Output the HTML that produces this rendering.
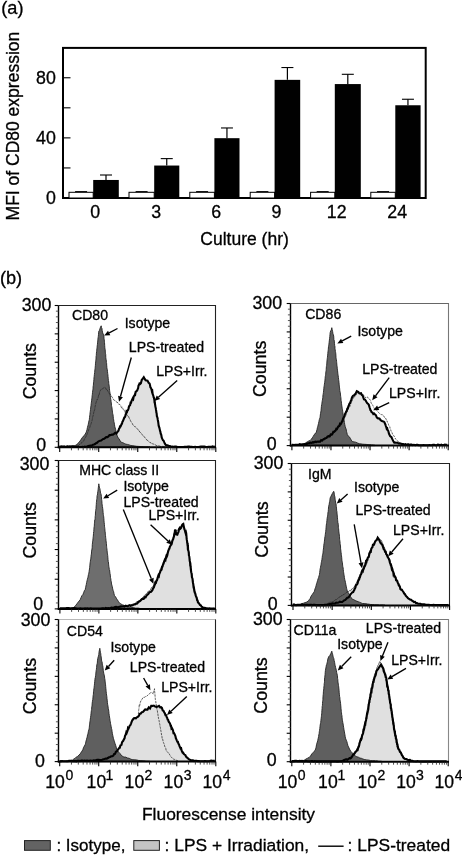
<!DOCTYPE html>
<html><head><meta charset="utf-8"><title>Figure</title>
<style>
html,body{margin:0;padding:0;background:#fff;}
body{width:462px;height:856px;overflow:hidden;}
svg{display:block;font-family:"Liberation Sans", sans-serif;will-change:transform;opacity:0.999;}
svg text{font-family:"Liberation Sans", sans-serif;fill:#000;stroke:#000;stroke-width:0.3px;}
</style></head><body>
<svg width="462" height="856" viewBox="0 0 462 856">
<rect x="0" y="0" width="462" height="856" fill="#fff"/>
<text x="1.30" y="14.20" font-size="18.2" text-anchor="start" >(a)</text>
<rect x="63.0" y="47.9" width="362.7" height="150.1" fill="none" stroke="#000" stroke-width="2"/>
<line x1="63.0" x2="70.5" y1="167.94" y2="167.94" stroke="#000" stroke-width="1.1"/>
<line x1="63.0" x2="70.5" y1="137.88" y2="137.88" stroke="#000" stroke-width="1.1"/>
<line x1="63.0" x2="70.5" y1="107.82" y2="107.82" stroke="#000" stroke-width="1.1"/>
<line x1="63.0" x2="70.5" y1="77.76" y2="77.76" stroke="#000" stroke-width="1.1"/>
<text x="55.90" y="204.20" font-size="17.8" text-anchor="end" >0</text>
<text x="55.90" y="144.08" font-size="17.8" text-anchor="end" >40</text>
<text x="55.90" y="83.96" font-size="17.8" text-anchor="end" >80</text>
<text transform="translate(18.50,126.10) rotate(-90)" font-size="17.5" text-anchor="middle">MFI of CD80 expression</text>
<rect x="69.00" y="192.3" width="24.20" height="5.70" fill="#fff" stroke="#000" stroke-width="1"/>
<line x1="75.10" x2="87.10" y1="191.60000000000002" y2="191.60000000000002" stroke="#000" stroke-width="1"/>
<rect x="93.20" y="179.96" width="25.60" height="18.04" fill="#000"/>
<line x1="106.00" x2="106.00" y1="179.96" y2="175.00" stroke="#000" stroke-width="1.2"/>
<line x1="100.00" x2="112.00" y1="175.00" y2="175.00" stroke="#000" stroke-width="1.1"/>
<text x="95.10" y="217.80" font-size="17.8" text-anchor="middle" >0</text>
<rect x="129.00" y="192.3" width="25.20" height="5.70" fill="#fff" stroke="#000" stroke-width="1"/>
<line x1="135.60" x2="147.60" y1="191.60000000000002" y2="191.60000000000002" stroke="#000" stroke-width="1"/>
<rect x="154.20" y="165.54" width="25.10" height="32.46" fill="#000"/>
<line x1="166.75" x2="166.75" y1="165.54" y2="158.62" stroke="#000" stroke-width="1.2"/>
<line x1="160.75" x2="172.75" y1="158.62" y2="158.62" stroke="#000" stroke-width="1.1"/>
<text x="156.10" y="217.80" font-size="17.8" text-anchor="middle" >3</text>
<rect x="189.80" y="192.3" width="24.60" height="5.70" fill="#fff" stroke="#000" stroke-width="1"/>
<line x1="196.10" x2="208.10" y1="191.60000000000002" y2="191.60000000000002" stroke="#000" stroke-width="1"/>
<rect x="214.40" y="138.18" width="25.10" height="59.82" fill="#000"/>
<line x1="226.95" x2="226.95" y1="138.18" y2="127.96" stroke="#000" stroke-width="1.2"/>
<line x1="220.95" x2="232.95" y1="127.96" y2="127.96" stroke="#000" stroke-width="1.1"/>
<text x="216.30" y="217.80" font-size="17.8" text-anchor="middle" >6</text>
<rect x="250.20" y="192.3" width="24.40" height="5.70" fill="#fff" stroke="#000" stroke-width="1"/>
<line x1="256.40" x2="268.40" y1="191.60000000000002" y2="191.60000000000002" stroke="#000" stroke-width="1"/>
<rect x="274.60" y="79.86" width="25.60" height="118.14" fill="#000"/>
<line x1="287.40" x2="287.40" y1="79.86" y2="67.54" stroke="#000" stroke-width="1.2"/>
<line x1="281.40" x2="293.40" y1="67.54" y2="67.54" stroke="#000" stroke-width="1.1"/>
<text x="276.50" y="217.80" font-size="17.8" text-anchor="middle" >9</text>
<rect x="310.60" y="192.3" width="24.20" height="5.70" fill="#fff" stroke="#000" stroke-width="1"/>
<line x1="316.70" x2="328.70" y1="191.60000000000002" y2="191.60000000000002" stroke="#000" stroke-width="1"/>
<rect x="334.80" y="84.07" width="26.00" height="113.93" fill="#000"/>
<line x1="347.80" x2="347.80" y1="84.07" y2="74.30" stroke="#000" stroke-width="1.2"/>
<line x1="341.80" x2="353.80" y1="74.30" y2="74.30" stroke="#000" stroke-width="1.1"/>
<text x="336.70" y="217.80" font-size="17.8" text-anchor="middle" >12</text>
<rect x="370.80" y="192.3" width="24.50" height="5.70" fill="#fff" stroke="#000" stroke-width="1"/>
<line x1="377.05" x2="389.05" y1="191.60000000000002" y2="191.60000000000002" stroke="#000" stroke-width="1"/>
<rect x="395.30" y="105.26" width="25.30" height="92.74" fill="#000"/>
<line x1="407.95" x2="407.95" y1="105.26" y2="99.25" stroke="#000" stroke-width="1.2"/>
<line x1="401.95" x2="413.95" y1="99.25" y2="99.25" stroke="#000" stroke-width="1.1"/>
<text x="397.20" y="217.80" font-size="17.8" text-anchor="middle" >24</text>
<text x="244.60" y="244.60" font-size="17.5" text-anchor="middle" >Culture (hr)</text>
<text x="-0.10" y="283.60" font-size="18.2" text-anchor="start" >(b)</text>
<polygon points="59.5,446.6 60.7,446.5 61.8,446.4 63.0,446.8 64.1,446.4 65.3,446.7 66.4,446.6 67.6,446.4 68.7,446.7 69.9,446.4 71.0,446.7 72.2,446.5 73.3,446.5 74.5,446.8 75.6,447.0 76.8,446.6 77.9,446.7 79.1,447.0 80.2,447.0 81.4,447.0 82.5,446.9 83.7,447.0 84.8,446.7 86.0,447.0 87.2,446.5 88.3,446.1 89.5,445.7 90.7,445.5 91.8,445.6 93.0,444.7 94.0,444.5 95.0,444.0 96.0,443.2 97.0,442.8 98.0,441.7 99.0,441.1 100.0,440.7 101.1,440.6 102.1,439.7 103.2,438.9 104.2,438.7 105.3,437.9 106.3,437.1 107.4,437.1 108.4,436.4 109.5,435.1 110.6,435.1 111.8,434.5 112.9,434.6 114.0,433.8 115.2,432.8 116.3,433.6 117.5,431.9 118.0,431.3 118.5,430.8 119.0,428.8 119.5,428.3 120.0,426.4 120.5,426.5 121.0,425.6 121.5,424.2 122.0,423.7 122.5,421.6 122.9,421.2 123.4,419.9 123.8,418.8 124.3,417.5 124.8,417.2 125.2,416.4 125.7,414.3 126.2,413.6 126.6,411.3 127.1,411.6 127.5,410.4 128.0,410.1 128.5,408.6 129.0,406.4 129.6,405.6 130.1,405.2 130.6,402.6 131.1,402.6 131.6,400.8 132.1,399.7 132.7,398.5 133.2,399.1 133.7,396.5 134.2,395.7 134.7,394.9 135.1,395.0 135.6,391.9 136.1,391.7 136.6,390.8 137.1,390.6 137.6,389.3 138.1,388.3 138.5,385.7 139.0,384.9 139.5,383.6 140.2,384.0 140.9,383.2 141.7,380.0 142.4,379.1 143.1,378.2 143.8,377.2 144.7,378.9 145.6,380.2 146.5,380.4 147.5,380.6 148.6,382.7 149.6,383.5 150.0,385.1 150.4,387.3 150.8,387.8 151.2,388.5 151.6,389.9 151.9,391.3 152.3,390.9 152.7,394.1 153.1,395.0 153.5,396.4 153.7,397.4 153.9,397.6 154.1,398.8 154.3,399.2 154.5,401.6 154.7,401.5 154.9,402.7 155.0,404.2 155.2,405.2 155.4,406.8 155.6,407.4 155.8,408.4 156.0,409.9 156.2,411.0 156.4,412.7 156.6,413.2 156.9,416.2 157.1,416.8 157.3,417.1 157.6,418.5 157.8,419.9 158.0,421.1 158.2,421.9 158.5,424.4 158.7,425.9 158.9,426.1 159.2,427.4 159.4,427.9 159.7,429.1 160.0,430.7 160.4,431.8 160.7,433.8 161.0,434.1 161.3,435.1 161.7,437.5 162.0,438.1 162.3,438.9 163.0,440.3 163.6,440.7 164.2,442.2 164.9,443.7 165.5,444.5 166.2,445.3 167.4,445.2 168.6,445.7 169.8,445.9 171.0,446.7 172.3,446.6 173.6,446.8 174.9,446.6 176.1,446.6 177.4,447.0 178.7,447.0 180.0,447.0 181.2,447.0 182.3,447.0 183.5,447.0 184.6,446.8 185.8,446.9 187.0,446.8 188.1,446.6 189.3,446.6 190.4,446.7 191.6,446.7 192.8,447.0 193.9,447.0 195.1,446.8 196.2,447.0 197.4,447.0 198.6,447.0 199.7,446.7 200.9,446.6 202.0,446.6 203.2,446.5 204.4,446.5 205.5,446.8 206.7,447.0 207.8,446.9 209.0,446.7 210.2,446.8 211.3,446.9 212.5,446.3 213.6,446.7 214.8,446.6 214.8,447.3 59.5,447.3" fill="#e0e0e0"/>
<polygon points="59.5,446.8 61.2,446.9 63.0,446.7 64.8,446.6 66.5,446.4 68.2,446.2 70.0,446.3 71.6,445.8 73.2,445.8 74.8,445.6 76.4,445.0 77.6,443.6 78.8,442.5 80.1,440.9 81.3,439.1 82.3,437.6 83.3,436.3 84.2,435.6 85.2,434.1 86.2,432.2 86.6,431.1 87.0,429.6 87.4,427.6 87.9,425.7 88.3,424.2 88.7,422.1 89.1,420.3 89.3,419.7 89.5,417.6 89.7,415.8 89.9,414.6 90.1,412.4 90.3,411.2 90.5,409.5 90.8,407.0 91.0,405.4 91.2,403.8 91.4,402.1 91.6,400.9 91.8,398.7 92.0,397.3 92.2,395.3 92.3,394.8 92.5,392.4 92.7,390.9 92.9,389.5 93.0,388.4 93.2,386.0 93.4,385.2 93.5,382.9 93.7,381.4 93.9,379.8 94.0,377.3 94.2,376.4 94.4,374.4 94.6,372.5 94.7,372.2 94.9,369.5 95.1,368.4 95.2,367.2 95.4,365.3 95.5,363.2 95.7,361.9 95.8,360.3 96.0,359.1 96.1,356.2 96.3,355.4 96.4,353.2 96.6,351.6 96.7,350.9 96.9,348.7 97.1,347.2 97.2,346.0 97.4,344.7 97.6,342.2 97.8,341.0 97.9,339.2 98.1,337.6 98.3,336.4 98.5,334.3 98.6,332.9 98.8,331.2 99.5,330.3 100.2,327.9 101.2,325.8 101.5,327.7 101.9,328.2 102.2,330.6 102.7,332.9 103.2,334.3 103.7,334.4 103.9,336.0 104.0,338.3 104.2,339.3 104.4,341.2 104.5,342.6 104.7,345.4 104.8,347.3 105.0,349.2 105.2,349.4 105.3,352.1 105.5,353.7 105.7,354.4 105.8,357.4 106.0,359.3 106.2,359.6 106.4,362.6 106.6,363.2 106.7,365.1 106.9,367.6 107.1,369.0 107.3,369.5 107.5,371.7 107.7,373.5 107.9,374.8 108.0,376.3 108.2,378.2 108.4,380.5 108.6,381.0 108.8,383.6 109.0,385.0 109.2,386.1 109.4,388.2 109.6,390.3 109.8,391.8 110.0,392.9 110.3,395.9 110.5,397.3 110.7,399.2 110.9,399.6 111.1,401.5 111.3,402.9 111.5,405.6 111.7,406.5 112.0,408.0 112.2,410.0 112.5,412.2 112.7,413.7 113.0,414.7 113.2,416.2 113.4,418.7 113.7,419.9 113.9,421.7 114.2,422.6 114.4,424.2 114.8,426.6 115.2,428.0 115.6,429.3 116.1,431.8 116.5,433.2 116.9,435.0 117.3,436.1 118.3,438.1 119.2,439.0 120.2,441.0 121.2,442.2 122.8,442.7 124.3,443.4 125.9,444.2 127.4,444.4 129.0,444.9 130.9,445.5 132.9,445.7 134.9,446.0 136.8,446.3 138.5,446.4 140.1,446.5 141.8,446.6 143.4,446.7 145.1,446.9 146.7,446.8 148.3,446.9 150.0,447.0 150.0,447.3 59.5,447.3" fill="#5f5f5f" stroke="#222" stroke-width="0.9" stroke-linejoin="round"/>
<polyline points="78.0,446.0 79.0,444.9 80.0,444.3 81.0,443.2 82.0,442.6 83.0,441.5 83.6,441.2 84.1,439.9 84.7,438.4 85.3,437.6 85.9,437.1 86.4,435.0 87.0,434.8 87.4,433.2 87.8,432.1 88.2,431.5 88.7,429.7 89.1,428.7 89.5,427.9 89.9,427.2 90.3,425.1 90.8,424.7 91.2,423.4 91.6,422.2 92.0,420.6 92.3,419.4 92.5,417.6 92.8,416.6 93.1,415.3 93.3,415.3 93.6,413.2 93.9,411.9 94.1,410.5 94.4,410.8 94.7,409.7 94.9,408.1 95.2,406.1 95.5,404.9 95.7,403.8 96.0,402.9 96.4,401.1 96.8,400.6 97.2,399.0 97.6,399.4 98.0,398.3 98.4,396.2 98.8,394.4 99.2,394.8 99.6,392.2 100.0,391.2 101.0,389.4 102.0,389.2 103.0,388.4 104.7,387.2 105.6,387.9 106.5,390.0 107.2,389.9 107.9,391.5 108.6,392.1 109.3,393.8 110.0,394.0 110.9,395.1 111.8,396.8 112.6,397.8 113.5,399.7 114.6,400.3 115.8,401.5 116.9,402.1 118.0,402.9 118.9,404.4 119.7,404.4 120.6,405.4 121.5,407.8 122.3,407.2 123.2,409.4 123.9,410.3 124.6,410.1 125.3,412.6 125.9,413.7 126.6,414.2 127.3,415.4 128.0,416.6 128.6,416.4 129.2,418.2 129.9,419.2 130.5,420.8 131.1,421.8 131.8,422.9 132.4,423.6 133.0,425.1 133.8,425.7 134.6,426.6 135.4,426.8 136.2,427.4 137.0,428.5 137.9,429.7 138.8,430.2 139.8,432.1 140.7,432.6 141.6,433.8 142.4,434.9 143.3,436.0 144.1,436.9 145.0,437.4 146.0,439.2 147.0,440.1 148.0,440.7 149.0,441.6 150.0,442.7 151.2,442.7 152.4,443.9 153.6,444.1 154.8,444.5 156.0,445.3 157.3,445.9 158.6,445.7 159.9,446.2 161.1,446.6 162.4,446.4 163.7,446.5 165.0,446.8" fill="none" stroke="#2a2a2a" stroke-width="0.75" stroke-dasharray="3 0.7"/>
<polyline points="59.5,446.6 60.7,446.5 61.8,446.4 63.0,446.8 64.1,446.4 65.3,446.7 66.4,446.6 67.6,446.4 68.7,446.7 69.9,446.4 71.0,446.7 72.2,446.5 73.3,446.5 74.5,446.8 75.6,447.0 76.8,446.6 77.9,446.7 79.1,447.0 80.2,447.0 81.4,447.0 82.5,446.9 83.7,447.0 84.8,446.7 86.0,447.0 87.2,446.5 88.3,446.1 89.5,445.7 90.7,445.5 91.8,445.6 93.0,444.7 94.0,444.5 95.0,444.0 96.0,443.2 97.0,442.8 98.0,441.7 99.0,441.1 100.0,440.7 101.1,440.6 102.1,439.7 103.2,438.9 104.2,438.7 105.3,437.9 106.3,437.1 107.4,437.1 108.4,436.4 109.5,435.1 110.6,435.1 111.8,434.5 112.9,434.6 114.0,433.8 115.2,432.8 116.3,433.6 117.5,431.9 118.0,431.3 118.5,430.8 119.0,428.8 119.5,428.3 120.0,426.4 120.5,426.5 121.0,425.6 121.5,424.2 122.0,423.7 122.5,421.6 122.9,421.2 123.4,419.9 123.8,418.8 124.3,417.5 124.8,417.2 125.2,416.4 125.7,414.3 126.2,413.6 126.6,411.3 127.1,411.6 127.5,410.4 128.0,410.1 128.5,408.6 129.0,406.4 129.6,405.6 130.1,405.2 130.6,402.6 131.1,402.6 131.6,400.8 132.1,399.7 132.7,398.5 133.2,399.1 133.7,396.5 134.2,395.7 134.7,394.9 135.1,395.0 135.6,391.9 136.1,391.7 136.6,390.8 137.1,390.6 137.6,389.3 138.1,388.3 138.5,385.7 139.0,384.9 139.5,383.6 140.2,384.0 140.9,383.2 141.7,380.0 142.4,379.1 143.1,378.2 143.8,377.2 144.7,378.9 145.6,380.2 146.5,380.4 147.5,380.6 148.6,382.7 149.6,383.5 150.0,385.1 150.4,387.3 150.8,387.8 151.2,388.5 151.6,389.9 151.9,391.3 152.3,390.9 152.7,394.1 153.1,395.0 153.5,396.4 153.7,397.4 153.9,397.6 154.1,398.8 154.3,399.2 154.5,401.6 154.7,401.5 154.9,402.7 155.0,404.2 155.2,405.2 155.4,406.8 155.6,407.4 155.8,408.4 156.0,409.9 156.2,411.0 156.4,412.7 156.6,413.2 156.9,416.2 157.1,416.8 157.3,417.1 157.6,418.5 157.8,419.9 158.0,421.1 158.2,421.9 158.5,424.4 158.7,425.9 158.9,426.1 159.2,427.4 159.4,427.9 159.7,429.1 160.0,430.7 160.4,431.8 160.7,433.8 161.0,434.1 161.3,435.1 161.7,437.5 162.0,438.1 162.3,438.9 163.0,440.3 163.6,440.7 164.2,442.2 164.9,443.7 165.5,444.5 166.2,445.3 167.4,445.2 168.6,445.7 169.8,445.9 171.0,446.7 172.3,446.6 173.6,446.8 174.9,446.6 176.1,446.6 177.4,447.0 178.7,447.0 180.0,447.0 181.2,447.0 182.3,447.0 183.5,447.0 184.6,446.8 185.8,446.9 187.0,446.8 188.1,446.6 189.3,446.6 190.4,446.7 191.6,446.7 192.8,447.0 193.9,447.0 195.1,446.8 196.2,447.0 197.4,447.0 198.6,447.0 199.7,446.7 200.9,446.6 202.0,446.6 203.2,446.5 204.4,446.5 205.5,446.8 206.7,447.0 207.8,446.9 209.0,446.7 210.2,446.8 211.3,446.9 212.5,446.3 213.6,446.7 214.8,446.6" fill="none" stroke="#000" stroke-width="2.1" stroke-linejoin="miter" stroke-miterlimit="3"/>
<path d="M58.50 305.50 H216.05" fill="none" stroke="#222" stroke-width="1.1"/>
<path d="M215.50 305.50 V447.30" fill="none" stroke="#222" stroke-width="1.1"/>
<path d="M58.50 305.50 V448.20" fill="none" stroke="#000" stroke-width="1.4"/>
<path d="M57.80 447.30 H216.00" fill="none" stroke="#000" stroke-width="2"/>
<line x1="54.70" x2="58.50" y1="305.50" y2="305.50" stroke="#000" stroke-width="1.1"/>
<line x1="55.90" x2="58.50" y1="311.17" y2="311.17" stroke="#444" stroke-width="0.9"/>
<line x1="55.90" x2="58.50" y1="316.84" y2="316.84" stroke="#444" stroke-width="0.9"/>
<line x1="55.90" x2="58.50" y1="322.52" y2="322.52" stroke="#444" stroke-width="0.9"/>
<line x1="55.90" x2="58.50" y1="328.19" y2="328.19" stroke="#444" stroke-width="0.9"/>
<line x1="54.70" x2="58.50" y1="333.86" y2="333.86" stroke="#000" stroke-width="1.1"/>
<line x1="55.90" x2="58.50" y1="339.53" y2="339.53" stroke="#444" stroke-width="0.9"/>
<line x1="55.90" x2="58.50" y1="345.20" y2="345.20" stroke="#444" stroke-width="0.9"/>
<line x1="55.90" x2="58.50" y1="350.88" y2="350.88" stroke="#444" stroke-width="0.9"/>
<line x1="55.90" x2="58.50" y1="356.55" y2="356.55" stroke="#444" stroke-width="0.9"/>
<line x1="54.70" x2="58.50" y1="362.22" y2="362.22" stroke="#000" stroke-width="1.1"/>
<line x1="55.90" x2="58.50" y1="367.89" y2="367.89" stroke="#444" stroke-width="0.9"/>
<line x1="55.90" x2="58.50" y1="373.56" y2="373.56" stroke="#444" stroke-width="0.9"/>
<line x1="55.90" x2="58.50" y1="379.24" y2="379.24" stroke="#444" stroke-width="0.9"/>
<line x1="55.90" x2="58.50" y1="384.91" y2="384.91" stroke="#444" stroke-width="0.9"/>
<line x1="54.70" x2="58.50" y1="390.58" y2="390.58" stroke="#000" stroke-width="1.1"/>
<line x1="55.90" x2="58.50" y1="396.25" y2="396.25" stroke="#444" stroke-width="0.9"/>
<line x1="55.90" x2="58.50" y1="401.92" y2="401.92" stroke="#444" stroke-width="0.9"/>
<line x1="55.90" x2="58.50" y1="407.60" y2="407.60" stroke="#444" stroke-width="0.9"/>
<line x1="55.90" x2="58.50" y1="413.27" y2="413.27" stroke="#444" stroke-width="0.9"/>
<line x1="54.70" x2="58.50" y1="418.94" y2="418.94" stroke="#000" stroke-width="1.1"/>
<line x1="55.90" x2="58.50" y1="424.61" y2="424.61" stroke="#444" stroke-width="0.9"/>
<line x1="55.90" x2="58.50" y1="430.28" y2="430.28" stroke="#444" stroke-width="0.9"/>
<line x1="55.90" x2="58.50" y1="435.96" y2="435.96" stroke="#444" stroke-width="0.9"/>
<line x1="55.90" x2="58.50" y1="441.63" y2="441.63" stroke="#444" stroke-width="0.9"/>
<line x1="54.70" x2="58.50" y1="447.30" y2="447.30" stroke="#000" stroke-width="1.1"/>
<line x1="59.70" x2="59.70" y1="447.30" y2="451.90" stroke="#000" stroke-width="1.1"/>
<line x1="71.45" x2="71.45" y1="447.30" y2="450.30" stroke="#222" stroke-width="0.8"/>
<line x1="78.32" x2="78.32" y1="447.30" y2="450.30" stroke="#222" stroke-width="0.8"/>
<line x1="83.20" x2="83.20" y1="447.30" y2="450.30" stroke="#222" stroke-width="0.8"/>
<line x1="86.98" x2="86.98" y1="447.30" y2="450.30" stroke="#222" stroke-width="0.8"/>
<line x1="90.07" x2="90.07" y1="447.30" y2="450.30" stroke="#222" stroke-width="0.8"/>
<line x1="92.68" x2="92.68" y1="447.30" y2="450.30" stroke="#222" stroke-width="0.8"/>
<line x1="94.94" x2="94.94" y1="447.30" y2="450.30" stroke="#222" stroke-width="0.8"/>
<line x1="96.94" x2="96.94" y1="447.30" y2="450.30" stroke="#222" stroke-width="0.8"/>
<line x1="98.72" x2="98.72" y1="447.30" y2="451.90" stroke="#000" stroke-width="1.1"/>
<line x1="110.47" x2="110.47" y1="447.30" y2="450.30" stroke="#222" stroke-width="0.8"/>
<line x1="117.34" x2="117.34" y1="447.30" y2="450.30" stroke="#222" stroke-width="0.8"/>
<line x1="122.22" x2="122.22" y1="447.30" y2="450.30" stroke="#222" stroke-width="0.8"/>
<line x1="126.00" x2="126.00" y1="447.30" y2="450.30" stroke="#222" stroke-width="0.8"/>
<line x1="129.09" x2="129.09" y1="447.30" y2="450.30" stroke="#222" stroke-width="0.8"/>
<line x1="131.70" x2="131.70" y1="447.30" y2="450.30" stroke="#222" stroke-width="0.8"/>
<line x1="133.97" x2="133.97" y1="447.30" y2="450.30" stroke="#222" stroke-width="0.8"/>
<line x1="135.96" x2="135.96" y1="447.30" y2="450.30" stroke="#222" stroke-width="0.8"/>
<line x1="137.75" x2="137.75" y1="447.30" y2="451.90" stroke="#000" stroke-width="1.1"/>
<line x1="149.50" x2="149.50" y1="447.30" y2="450.30" stroke="#222" stroke-width="0.8"/>
<line x1="156.37" x2="156.37" y1="447.30" y2="450.30" stroke="#222" stroke-width="0.8"/>
<line x1="161.25" x2="161.25" y1="447.30" y2="450.30" stroke="#222" stroke-width="0.8"/>
<line x1="165.03" x2="165.03" y1="447.30" y2="450.30" stroke="#222" stroke-width="0.8"/>
<line x1="168.12" x2="168.12" y1="447.30" y2="450.30" stroke="#222" stroke-width="0.8"/>
<line x1="170.73" x2="170.73" y1="447.30" y2="450.30" stroke="#222" stroke-width="0.8"/>
<line x1="172.99" x2="172.99" y1="447.30" y2="450.30" stroke="#222" stroke-width="0.8"/>
<line x1="174.99" x2="174.99" y1="447.30" y2="450.30" stroke="#222" stroke-width="0.8"/>
<line x1="176.77" x2="176.77" y1="447.30" y2="451.90" stroke="#000" stroke-width="1.1"/>
<line x1="188.52" x2="188.52" y1="447.30" y2="450.30" stroke="#222" stroke-width="0.8"/>
<line x1="195.39" x2="195.39" y1="447.30" y2="450.30" stroke="#222" stroke-width="0.8"/>
<line x1="200.27" x2="200.27" y1="447.30" y2="450.30" stroke="#222" stroke-width="0.8"/>
<line x1="204.05" x2="204.05" y1="447.30" y2="450.30" stroke="#222" stroke-width="0.8"/>
<line x1="207.14" x2="207.14" y1="447.30" y2="450.30" stroke="#222" stroke-width="0.8"/>
<line x1="209.75" x2="209.75" y1="447.30" y2="450.30" stroke="#222" stroke-width="0.8"/>
<line x1="212.02" x2="212.02" y1="447.30" y2="450.30" stroke="#222" stroke-width="0.8"/>
<line x1="214.01" x2="214.01" y1="447.30" y2="450.30" stroke="#222" stroke-width="0.8"/>
<line x1="215.80" x2="215.80" y1="447.30" y2="451.90" stroke="#000" stroke-width="1.1"/>
<text x="51.40" y="311.30" font-size="17.8" text-anchor="end" >300</text>
<text x="46.10" y="451.10" font-size="17.8" text-anchor="end" >0</text>
<text transform="translate(35.80,371.20) rotate(-90)" font-size="17.8" text-anchor="middle">Counts</text>
<text x="72.00" y="320.40" font-size="14.1" text-anchor="start" >CD80</text>
<text x="124.70" y="327.90" font-size="14.1" text-anchor="start" >Isotype</text>
<text x="128.80" y="351.60" font-size="14.1" text-anchor="start" >LPS-treated</text>
<text x="156.20" y="375.60" font-size="14.1" text-anchor="start" >LPS+Irr.</text>
<line x1="117.50" y1="328.50" x2="109.16" y2="332.92" stroke="#000" stroke-width="1.35"/>
<polygon points="104.30,335.50 107.99,330.71 110.33,335.13" fill="#000"/>
<line x1="131.30" y1="357.50" x2="120.47" y2="396.50" stroke="#000" stroke-width="1.35"/>
<polygon points="119.00,401.80 118.06,395.83 122.88,397.17" fill="#000"/>
<line x1="177.20" y1="380.60" x2="158.42" y2="397.25" stroke="#000" stroke-width="1.35"/>
<polygon points="154.30,400.90 156.76,395.38 160.07,399.12" fill="#000"/>
<polygon points="59.7,608.2 60.9,608.2 62.0,608.4 63.2,608.4 64.3,608.3 65.5,608.4 66.6,608.0 67.8,608.1 68.9,608.1 70.1,608.5 71.2,608.2 72.4,608.4 73.5,608.0 74.7,608.1 75.8,608.2 77.0,608.5 78.1,608.6 79.3,608.6 80.4,608.3 81.6,608.5 82.7,608.5 83.9,608.5 85.0,608.3 86.2,608.6 87.3,608.3 88.5,608.6 89.6,608.6 90.8,608.3 91.9,608.6 93.1,608.6 94.2,608.6 95.4,608.6 96.5,608.5 97.7,608.5 98.8,608.6 100.0,608.5 101.2,608.6 102.3,608.3 103.5,608.4 104.6,608.6 105.8,608.0 106.9,608.4 108.1,608.1 109.2,608.3 110.4,608.0 111.5,607.6 112.7,608.0 113.8,607.6 115.0,607.1 116.2,606.9 117.4,607.2 118.6,607.0 119.8,606.7 121.0,606.4 122.2,606.5 123.4,606.3 124.6,606.6 125.8,605.7 127.0,606.2 128.1,606.1 129.3,605.2 130.4,605.8 131.6,605.4 132.7,605.3 133.9,604.5 135.0,604.4 136.0,603.7 136.9,603.7 137.9,602.6 138.9,601.7 139.9,601.1 140.9,600.2 141.8,599.3 142.8,598.7 143.7,598.8 144.7,597.2 145.6,597.3 146.6,595.5 147.5,594.7 148.3,594.1 149.2,592.7 150.0,592.0 150.8,592.0 151.7,591.0 152.5,589.9 153.0,588.6 153.5,588.0 154.0,587.0 154.5,585.3 155.0,584.5 155.5,582.3 156.0,582.5 156.5,580.9 157.0,580.3 157.4,579.0 157.9,577.2 158.4,575.6 158.9,576.2 159.4,573.4 159.8,573.0 160.3,571.6 160.7,570.4 161.2,570.2 161.6,569.6 162.0,567.0 162.5,566.7 162.9,564.9 163.3,564.3 163.8,562.9 164.2,561.2 164.6,560.1 165.1,559.2 165.5,559.8 165.9,557.7 166.4,556.0 166.8,556.6 167.2,555.7 167.7,553.3 168.1,551.5 168.5,550.5 168.9,549.1 169.4,548.7 169.8,546.9 170.2,546.2 170.7,545.1 171.1,544.8 171.5,544.5 171.9,543.0 172.3,541.0 172.8,539.9 173.2,539.1 173.6,537.6 174.0,536.4 174.2,534.3 174.4,533.6 174.7,534.2 174.9,530.6 175.1,530.3 175.3,529.4 175.5,531.3 175.7,530.8 175.9,532.3 176.1,533.5 176.3,535.2 176.9,534.2 177.4,534.5 177.9,533.1 178.5,532.0 179.2,528.6 179.8,527.7 180.5,528.6 181.2,527.8 182.0,525.3 182.7,524.3 183.3,523.9 183.8,526.4 184.4,529.2 184.8,530.2 185.2,531.5 185.6,533.1 186.0,532.3 186.2,533.1 186.3,534.3 186.5,536.5 186.6,538.1 186.8,539.9 186.9,540.4 187.1,541.4 187.2,542.8 187.4,543.2 187.5,544.5 187.7,544.4 187.8,547.4 188.0,547.2 188.1,550.0 188.3,550.5 188.4,550.8 188.6,551.5 188.8,553.0 188.9,555.1 189.1,556.4 189.2,556.2 189.4,557.3 189.6,559.6 189.7,560.9 189.9,561.7 190.1,562.5 190.2,564.5 190.4,564.4 190.5,566.2 190.7,567.8 190.9,570.0 191.0,570.5 191.2,572.2 191.3,572.6 191.5,573.3 191.7,574.5 191.9,577.1 192.1,577.7 192.3,578.1 192.5,578.7 192.7,580.8 192.9,582.3 193.0,583.0 193.2,583.9 193.4,585.8 193.6,587.4 193.8,587.4 194.0,588.3 194.2,590.0 194.4,591.3 194.8,592.8 195.2,593.3 195.6,595.3 196.0,596.4 196.4,597.2 196.7,598.0 197.1,600.1 197.5,600.4 197.9,602.2 198.3,602.7 199.1,603.5 199.9,604.9 200.8,605.3 201.6,606.7 202.4,607.2 203.2,607.8 204.5,607.9 205.7,608.1 207.0,608.4 208.2,608.6 209.5,608.3 210.7,608.5 212.0,608.5 213.4,608.6 214.8,608.2 214.8,608.9 59.7,608.9" fill="#e0e0e0"/>
<polygon points="68.0,608.6 69.8,608.3 71.7,608.0 73.5,607.8 74.6,606.5 75.8,605.3 76.9,603.9 78.0,602.3 79.2,601.0 80.3,599.5 81.1,597.4 81.9,595.7 82.8,594.7 83.6,592.9 84.4,590.6 85.2,589.6 85.6,587.7 85.9,586.1 86.3,584.4 86.6,582.7 87.0,580.9 87.3,579.6 87.7,578.1 88.0,577.2 88.4,574.6 88.7,574.1 89.1,571.5 89.3,570.0 89.5,569.0 89.7,567.3 89.9,565.1 90.1,562.9 90.3,561.8 90.5,560.0 90.8,559.1 91.0,556.4 91.2,555.0 91.4,554.1 91.6,551.1 91.8,550.0 92.0,549.0 92.2,547.3 92.3,544.5 92.5,542.9 92.6,541.3 92.8,541.1 93.0,538.4 93.1,537.5 93.3,536.2 93.5,533.6 93.6,531.9 93.8,531.4 93.9,529.2 94.1,527.0 94.3,526.2 94.4,523.8 94.6,522.1 94.7,520.0 94.9,519.8 95.1,518.4 95.2,516.3 95.4,515.2 95.5,511.8 95.7,510.6 95.8,509.4 96.0,508.6 96.1,507.0 96.3,504.3 96.4,502.4 96.6,501.1 96.7,499.5 96.9,498.7 97.1,495.6 97.4,495.1 97.6,493.2 97.8,491.7 98.1,489.9 98.3,487.8 98.6,485.6 98.8,483.8 99.1,485.6 99.5,488.1 99.8,488.4 100.2,490.3 100.5,493.1 100.9,493.7 101.2,495.0 101.4,496.6 101.6,499.3 101.8,500.5 102.0,503.4 102.2,504.9 102.4,506.7 102.5,507.0 102.7,508.3 102.9,510.0 103.1,512.4 103.3,514.4 103.5,515.6 103.7,516.8 103.9,518.8 104.0,520.9 104.2,522.6 104.4,524.4 104.5,526.3 104.7,527.6 104.8,528.4 105.0,531.2 105.2,532.0 105.3,534.1 105.5,535.5 105.7,537.7 105.8,538.5 106.0,540.3 106.2,542.0 106.4,543.5 106.6,546.3 106.7,547.5 106.9,548.8 107.1,550.6 107.3,553.1 107.5,554.1 107.7,555.4 107.9,557.9 108.0,559.3 108.2,561.4 108.4,561.9 108.6,564.1 108.8,566.2 109.1,567.8 109.3,569.5 109.6,570.0 109.8,572.0 110.0,573.4 110.3,575.1 110.5,577.7 110.8,578.8 111.0,580.8 111.3,581.8 111.5,584.0 111.9,585.2 112.3,586.7 112.7,588.9 113.2,590.7 113.6,591.6 114.0,593.7 114.4,595.4 115.4,596.6 116.4,598.3 117.3,599.7 118.3,601.3 119.3,602.9 120.9,603.9 122.4,604.8 124.0,605.3 125.5,605.9 127.1,606.9 128.7,607.3 130.3,607.2 131.9,607.5 133.6,607.6 135.2,608.1 136.8,608.1 138.4,608.1 140.0,608.5 140.0,608.9 68.0,608.9" fill="#6e6e6e" stroke="#222" stroke-width="0.9" stroke-linejoin="round"/>
<polyline points="100.0,608.5 101.2,608.2 102.5,608.2 103.8,608.2 105.0,608.2 106.2,607.7 107.5,607.7 108.8,607.9 110.0,607.6 111.2,607.4 112.5,607.4 113.8,607.7 115.0,607.2 116.2,607.3 117.5,607.0 118.8,606.9 120.0,607.2 121.2,607.2 122.5,606.6 123.8,606.4 125.0,606.7 126.2,605.9 127.5,605.3 128.8,605.7 130.0,604.9 131.2,604.9 132.5,604.2 133.8,604.2 135.0,603.5 136.0,602.4 137.0,601.6 138.0,601.4 139.0,600.8 140.0,600.4 141.0,598.7 142.0,598.6 142.8,597.4 143.7,596.7 144.5,595.3 145.3,594.5 146.2,593.9 147.0,593.6 147.9,591.5 148.7,591.2 149.6,590.7 150.5,590.0 151.3,588.0 152.2,586.9 152.7,587.1 153.3,586.1 153.8,584.3 154.4,582.5 154.9,582.9 155.5,580.9 156.0,580.7 156.5,579.1 157.0,578.3 157.5,576.0 158.0,576.0 158.5,573.9 159.0,573.1 159.5,572.8 160.0,571.6 160.5,569.2 161.0,568.0 161.5,567.1 162.0,566.1 162.5,564.7 163.0,562.9 163.5,561.9 164.0,561.7 164.5,560.8 165.0,557.8 165.5,557.8 166.0,557.0 166.5,554.2 167.0,554.8 167.5,552.0 168.0,551.9 168.5,550.6 168.9,549.6 169.4,547.7 169.8,546.8 170.2,545.9 170.7,544.4 171.1,543.7 171.6,542.1 172.0,540.9 172.4,538.6 172.9,538.7 173.3,537.1 173.7,535.2 174.1,535.2 174.6,534.0 175.0,531.9 176.2,530.5 177.3,530.6 178.5,529.0 179.5,527.9 180.5,527.5 181.5,525.4 183.2,525.8 183.6,527.3 184.1,527.4 184.5,530.2 184.9,530.1 185.3,533.0 185.8,534.4 186.2,535.0 186.4,535.1 186.5,537.4 186.7,538.3 186.9,540.8 187.1,540.1 187.2,543.0 187.4,544.5 187.6,545.0 187.8,546.4 187.9,546.2 188.1,549.2 188.3,549.2 188.5,551.5 188.7,552.6 188.8,552.1 189.0,554.6 189.2,556.2 189.4,555.5 189.5,557.4 189.7,559.5 189.9,559.5 190.1,562.2 190.2,562.2 190.4,564.5 190.6,564.4 190.8,566.4 190.9,568.4 191.1,568.3 191.3,569.6 191.5,571.3 191.6,572.2 191.8,572.9 192.0,574.4 192.2,575.6 192.4,578.2 192.6,579.0 192.9,580.5 193.1,580.5 193.3,582.8 193.5,582.9 193.7,584.8 193.9,586.1 194.1,586.9 194.4,588.9 194.6,589.7 194.8,590.9 195.0,592.5 195.4,592.6 195.8,595.0 196.2,595.6 196.6,596.5 197.0,598.1 197.4,598.6 197.8,600.6 198.2,601.3 198.6,602.2 199.0,603.8 200.0,604.3 201.0,605.0 202.0,606.4 203.0,606.8 204.0,608.0" fill="none" stroke="#2a2a2a" stroke-width="0.75"/>
<polyline points="59.7,608.2 60.9,608.2 62.0,608.4 63.2,608.4 64.3,608.3 65.5,608.4 66.6,608.0 67.8,608.1 68.9,608.1 70.1,608.5 71.2,608.2 72.4,608.4 73.5,608.0 74.7,608.1 75.8,608.2 77.0,608.5 78.1,608.6 79.3,608.6 80.4,608.3 81.6,608.5 82.7,608.5 83.9,608.5 85.0,608.3 86.2,608.6 87.3,608.3 88.5,608.6 89.6,608.6 90.8,608.3 91.9,608.6 93.1,608.6 94.2,608.6 95.4,608.6 96.5,608.5 97.7,608.5 98.8,608.6 100.0,608.5 101.2,608.6 102.3,608.3 103.5,608.4 104.6,608.6 105.8,608.0 106.9,608.4 108.1,608.1 109.2,608.3 110.4,608.0 111.5,607.6 112.7,608.0 113.8,607.6 115.0,607.1 116.2,606.9 117.4,607.2 118.6,607.0 119.8,606.7 121.0,606.4 122.2,606.5 123.4,606.3 124.6,606.6 125.8,605.7 127.0,606.2 128.1,606.1 129.3,605.2 130.4,605.8 131.6,605.4 132.7,605.3 133.9,604.5 135.0,604.4 136.0,603.7 136.9,603.7 137.9,602.6 138.9,601.7 139.9,601.1 140.9,600.2 141.8,599.3 142.8,598.7 143.7,598.8 144.7,597.2 145.6,597.3 146.6,595.5 147.5,594.7 148.3,594.1 149.2,592.7 150.0,592.0 150.8,592.0 151.7,591.0 152.5,589.9 153.0,588.6 153.5,588.0 154.0,587.0 154.5,585.3 155.0,584.5 155.5,582.3 156.0,582.5 156.5,580.9 157.0,580.3 157.4,579.0 157.9,577.2 158.4,575.6 158.9,576.2 159.4,573.4 159.8,573.0 160.3,571.6 160.7,570.4 161.2,570.2 161.6,569.6 162.0,567.0 162.5,566.7 162.9,564.9 163.3,564.3 163.8,562.9 164.2,561.2 164.6,560.1 165.1,559.2 165.5,559.8 165.9,557.7 166.4,556.0 166.8,556.6 167.2,555.7 167.7,553.3 168.1,551.5 168.5,550.5 168.9,549.1 169.4,548.7 169.8,546.9 170.2,546.2 170.7,545.1 171.1,544.8 171.5,544.5 171.9,543.0 172.3,541.0 172.8,539.9 173.2,539.1 173.6,537.6 174.0,536.4 174.2,534.3 174.4,533.6 174.7,534.2 174.9,530.6 175.1,530.3 175.3,529.4 175.5,531.3 175.7,530.8 175.9,532.3 176.1,533.5 176.3,535.2 176.9,534.2 177.4,534.5 177.9,533.1 178.5,532.0 179.2,528.6 179.8,527.7 180.5,528.6 181.2,527.8 182.0,525.3 182.7,524.3 183.3,523.9 183.8,526.4 184.4,529.2 184.8,530.2 185.2,531.5 185.6,533.1 186.0,532.3 186.2,533.1 186.3,534.3 186.5,536.5 186.6,538.1 186.8,539.9 186.9,540.4 187.1,541.4 187.2,542.8 187.4,543.2 187.5,544.5 187.7,544.4 187.8,547.4 188.0,547.2 188.1,550.0 188.3,550.5 188.4,550.8 188.6,551.5 188.8,553.0 188.9,555.1 189.1,556.4 189.2,556.2 189.4,557.3 189.6,559.6 189.7,560.9 189.9,561.7 190.1,562.5 190.2,564.5 190.4,564.4 190.5,566.2 190.7,567.8 190.9,570.0 191.0,570.5 191.2,572.2 191.3,572.6 191.5,573.3 191.7,574.5 191.9,577.1 192.1,577.7 192.3,578.1 192.5,578.7 192.7,580.8 192.9,582.3 193.0,583.0 193.2,583.9 193.4,585.8 193.6,587.4 193.8,587.4 194.0,588.3 194.2,590.0 194.4,591.3 194.8,592.8 195.2,593.3 195.6,595.3 196.0,596.4 196.4,597.2 196.7,598.0 197.1,600.1 197.5,600.4 197.9,602.2 198.3,602.7 199.1,603.5 199.9,604.9 200.8,605.3 201.6,606.7 202.4,607.2 203.2,607.8 204.5,607.9 205.7,608.1 207.0,608.4 208.2,608.6 209.5,608.3 210.7,608.5 212.0,608.5 213.4,608.6 214.8,608.2" fill="none" stroke="#000" stroke-width="2.1" stroke-linejoin="miter" stroke-miterlimit="3"/>
<path d="M58.50 460.50 H216.05" fill="none" stroke="#222" stroke-width="1.1"/>
<path d="M215.50 460.50 V608.90" fill="none" stroke="#222" stroke-width="1.1"/>
<path d="M58.50 460.50 V609.80" fill="none" stroke="#000" stroke-width="1.4"/>
<path d="M57.80 608.90 H216.00" fill="none" stroke="#000" stroke-width="2"/>
<line x1="54.70" x2="58.50" y1="460.50" y2="460.50" stroke="#000" stroke-width="1.1"/>
<line x1="55.90" x2="58.50" y1="466.44" y2="466.44" stroke="#444" stroke-width="0.9"/>
<line x1="55.90" x2="58.50" y1="472.37" y2="472.37" stroke="#444" stroke-width="0.9"/>
<line x1="55.90" x2="58.50" y1="478.31" y2="478.31" stroke="#444" stroke-width="0.9"/>
<line x1="55.90" x2="58.50" y1="484.24" y2="484.24" stroke="#444" stroke-width="0.9"/>
<line x1="54.70" x2="58.50" y1="490.18" y2="490.18" stroke="#000" stroke-width="1.1"/>
<line x1="55.90" x2="58.50" y1="496.12" y2="496.12" stroke="#444" stroke-width="0.9"/>
<line x1="55.90" x2="58.50" y1="502.05" y2="502.05" stroke="#444" stroke-width="0.9"/>
<line x1="55.90" x2="58.50" y1="507.99" y2="507.99" stroke="#444" stroke-width="0.9"/>
<line x1="55.90" x2="58.50" y1="513.92" y2="513.92" stroke="#444" stroke-width="0.9"/>
<line x1="54.70" x2="58.50" y1="519.86" y2="519.86" stroke="#000" stroke-width="1.1"/>
<line x1="55.90" x2="58.50" y1="525.80" y2="525.80" stroke="#444" stroke-width="0.9"/>
<line x1="55.90" x2="58.50" y1="531.73" y2="531.73" stroke="#444" stroke-width="0.9"/>
<line x1="55.90" x2="58.50" y1="537.67" y2="537.67" stroke="#444" stroke-width="0.9"/>
<line x1="55.90" x2="58.50" y1="543.60" y2="543.60" stroke="#444" stroke-width="0.9"/>
<line x1="54.70" x2="58.50" y1="549.54" y2="549.54" stroke="#000" stroke-width="1.1"/>
<line x1="55.90" x2="58.50" y1="555.48" y2="555.48" stroke="#444" stroke-width="0.9"/>
<line x1="55.90" x2="58.50" y1="561.41" y2="561.41" stroke="#444" stroke-width="0.9"/>
<line x1="55.90" x2="58.50" y1="567.35" y2="567.35" stroke="#444" stroke-width="0.9"/>
<line x1="55.90" x2="58.50" y1="573.28" y2="573.28" stroke="#444" stroke-width="0.9"/>
<line x1="54.70" x2="58.50" y1="579.22" y2="579.22" stroke="#000" stroke-width="1.1"/>
<line x1="55.90" x2="58.50" y1="585.16" y2="585.16" stroke="#444" stroke-width="0.9"/>
<line x1="55.90" x2="58.50" y1="591.09" y2="591.09" stroke="#444" stroke-width="0.9"/>
<line x1="55.90" x2="58.50" y1="597.03" y2="597.03" stroke="#444" stroke-width="0.9"/>
<line x1="55.90" x2="58.50" y1="602.96" y2="602.96" stroke="#444" stroke-width="0.9"/>
<line x1="54.70" x2="58.50" y1="608.90" y2="608.90" stroke="#000" stroke-width="1.1"/>
<line x1="59.90" x2="59.90" y1="608.90" y2="613.50" stroke="#000" stroke-width="1.1"/>
<line x1="71.63" x2="71.63" y1="608.90" y2="611.90" stroke="#222" stroke-width="0.8"/>
<line x1="78.50" x2="78.50" y1="608.90" y2="611.90" stroke="#222" stroke-width="0.8"/>
<line x1="83.37" x2="83.37" y1="608.90" y2="611.90" stroke="#222" stroke-width="0.8"/>
<line x1="87.14" x2="87.14" y1="608.90" y2="611.90" stroke="#222" stroke-width="0.8"/>
<line x1="90.23" x2="90.23" y1="608.90" y2="611.90" stroke="#222" stroke-width="0.8"/>
<line x1="92.84" x2="92.84" y1="608.90" y2="611.90" stroke="#222" stroke-width="0.8"/>
<line x1="95.10" x2="95.10" y1="608.90" y2="611.90" stroke="#222" stroke-width="0.8"/>
<line x1="97.09" x2="97.09" y1="608.90" y2="611.90" stroke="#222" stroke-width="0.8"/>
<line x1="98.88" x2="98.88" y1="608.90" y2="613.50" stroke="#000" stroke-width="1.1"/>
<line x1="110.61" x2="110.61" y1="608.90" y2="611.90" stroke="#222" stroke-width="0.8"/>
<line x1="117.47" x2="117.47" y1="608.90" y2="611.90" stroke="#222" stroke-width="0.8"/>
<line x1="122.34" x2="122.34" y1="608.90" y2="611.90" stroke="#222" stroke-width="0.8"/>
<line x1="126.12" x2="126.12" y1="608.90" y2="611.90" stroke="#222" stroke-width="0.8"/>
<line x1="129.20" x2="129.20" y1="608.90" y2="611.90" stroke="#222" stroke-width="0.8"/>
<line x1="131.81" x2="131.81" y1="608.90" y2="611.90" stroke="#222" stroke-width="0.8"/>
<line x1="134.07" x2="134.07" y1="608.90" y2="611.90" stroke="#222" stroke-width="0.8"/>
<line x1="136.07" x2="136.07" y1="608.90" y2="611.90" stroke="#222" stroke-width="0.8"/>
<line x1="137.85" x2="137.85" y1="608.90" y2="613.50" stroke="#000" stroke-width="1.1"/>
<line x1="149.58" x2="149.58" y1="608.90" y2="611.90" stroke="#222" stroke-width="0.8"/>
<line x1="156.45" x2="156.45" y1="608.90" y2="611.90" stroke="#222" stroke-width="0.8"/>
<line x1="161.32" x2="161.32" y1="608.90" y2="611.90" stroke="#222" stroke-width="0.8"/>
<line x1="165.09" x2="165.09" y1="608.90" y2="611.90" stroke="#222" stroke-width="0.8"/>
<line x1="168.18" x2="168.18" y1="608.90" y2="611.90" stroke="#222" stroke-width="0.8"/>
<line x1="170.79" x2="170.79" y1="608.90" y2="611.90" stroke="#222" stroke-width="0.8"/>
<line x1="173.05" x2="173.05" y1="608.90" y2="611.90" stroke="#222" stroke-width="0.8"/>
<line x1="175.04" x2="175.04" y1="608.90" y2="611.90" stroke="#222" stroke-width="0.8"/>
<line x1="176.83" x2="176.83" y1="608.90" y2="613.50" stroke="#000" stroke-width="1.1"/>
<line x1="188.56" x2="188.56" y1="608.90" y2="611.90" stroke="#222" stroke-width="0.8"/>
<line x1="195.42" x2="195.42" y1="608.90" y2="611.90" stroke="#222" stroke-width="0.8"/>
<line x1="200.29" x2="200.29" y1="608.90" y2="611.90" stroke="#222" stroke-width="0.8"/>
<line x1="204.07" x2="204.07" y1="608.90" y2="611.90" stroke="#222" stroke-width="0.8"/>
<line x1="207.15" x2="207.15" y1="608.90" y2="611.90" stroke="#222" stroke-width="0.8"/>
<line x1="209.76" x2="209.76" y1="608.90" y2="611.90" stroke="#222" stroke-width="0.8"/>
<line x1="212.02" x2="212.02" y1="608.90" y2="611.90" stroke="#222" stroke-width="0.8"/>
<line x1="214.02" x2="214.02" y1="608.90" y2="611.90" stroke="#222" stroke-width="0.8"/>
<line x1="215.80" x2="215.80" y1="608.90" y2="613.50" stroke="#000" stroke-width="1.1"/>
<text x="49.40" y="470.20" font-size="17.8" text-anchor="end" >300</text>
<text x="43.10" y="610.40" font-size="17.8" text-anchor="end" >0</text>
<text transform="translate(36.20,530.40) rotate(-90)" font-size="17.8" text-anchor="middle">Counts</text>
<text x="79.20" y="474.60" font-size="14.1" text-anchor="start" >MHC class II</text>
<text x="123.40" y="491.00" font-size="14.1" text-anchor="start" >Isotype</text>
<text x="123.40" y="506.60" font-size="14.1" text-anchor="start" >LPS-treated</text>
<text x="148.40" y="519.80" font-size="14.1" text-anchor="start" >LPS+Irr.</text>
<line x1="117.20" y1="490.20" x2="107.92" y2="495.77" stroke="#000" stroke-width="1.35"/>
<polygon points="103.20,498.60 106.63,493.63 109.20,497.91" fill="#000"/>
<line x1="123.30" y1="509.60" x2="151.33" y2="578.70" stroke="#000" stroke-width="1.35"/>
<polygon points="153.40,583.80 149.02,579.64 153.65,577.76" fill="#000"/>
<line x1="150.60" y1="524.70" x2="167.99" y2="541.03" stroke="#000" stroke-width="1.35"/>
<polygon points="172.00,544.80 166.28,542.86 169.70,539.21" fill="#000"/>
<polygon points="59.5,760.9 60.8,761.3 62.0,761.1 63.2,761.3 64.4,761.3 65.6,761.3 66.8,761.3 68.0,761.1 69.2,760.8 70.4,760.8 71.6,760.9 72.8,761.2 74.0,761.1 75.2,761.1 76.4,761.3 77.6,760.8 78.8,760.8 80.0,761.1 81.2,760.6 82.3,760.6 83.5,760.8 84.7,760.6 85.8,760.7 87.0,760.6 88.2,760.8 89.3,760.8 90.5,760.5 91.7,760.8 92.8,760.6 94.0,760.3 95.2,760.8 96.3,760.1 97.5,759.9 98.7,759.7 99.8,760.0 101.0,760.0 102.2,759.8 103.4,759.3 104.5,759.0 105.7,758.6 106.8,758.7 107.9,758.0 109.0,757.3 110.1,757.0 111.2,756.3 112.3,756.3 113.4,755.5 114.2,753.9 115.1,753.8 115.9,751.7 116.8,751.4 117.6,750.2 118.5,749.0 119.3,747.7 119.8,747.7 120.4,745.5 120.9,745.2 121.5,744.8 122.0,742.4 122.6,741.4 123.1,741.0 123.7,739.7 124.2,738.9 124.6,738.1 125.0,735.8 125.5,735.0 125.9,733.9 126.3,732.3 126.7,732.9 127.2,731.6 127.6,730.4 128.0,727.9 128.6,728.5 129.2,727.2 129.8,725.5 130.4,725.0 131.1,723.3 131.7,721.7 132.3,720.3 132.9,719.5 133.9,718.3 134.9,718.1 135.9,718.3 136.8,717.3 137.8,716.9 138.8,715.8 139.8,713.8 140.8,713.5 141.8,712.2 142.8,712.1 144.0,710.7 145.2,709.4 146.3,709.6 147.5,709.6 148.8,707.3 150.0,708.4 151.2,705.8 152.5,705.9 153.8,705.6 155.2,706.6 156.5,706.9 157.8,706.6 159.0,705.8 160.3,707.4 161.1,707.1 161.9,707.9 162.7,710.5 163.5,710.8 164.2,712.2 164.8,713.3 165.5,715.2 166.2,715.2 166.7,717.2 167.2,718.0 167.6,719.5 168.1,719.7 168.6,721.5 169.1,722.3 169.6,722.8 170.1,723.8 170.6,725.8 171.0,725.8 171.5,728.6 172.0,728.2 172.5,729.1 173.0,730.4 173.5,733.1 174.0,733.1 174.5,733.9 174.9,734.8 175.4,736.0 175.9,738.3 176.4,739.3 176.9,740.6 177.4,741.8 177.9,741.8 178.4,743.7 179.0,744.4 179.5,746.2 180.0,747.2 180.5,748.4 181.1,748.2 181.6,750.5 182.1,751.6 182.6,752.7 183.2,752.6 183.7,753.8 184.5,754.5 185.4,755.2 186.2,756.9 187.1,757.6 187.9,758.2 188.8,759.2 189.7,759.7 190.5,760.2 191.7,760.2 192.9,760.3 194.1,761.0 195.2,760.7 196.4,760.9 197.6,761.1 198.8,761.0 200.0,761.2 201.2,761.2 202.5,761.3 203.7,761.2 204.9,761.1 206.2,761.3 207.4,761.2 208.6,761.3 209.9,761.1 211.1,760.7 212.3,760.9 213.6,760.9 214.8,760.9 214.8,761.6 59.5,761.6" fill="#e0e0e0"/>
<polygon points="66.0,761.2 67.6,761.0 69.2,760.6 70.9,760.5 72.5,760.1 73.8,759.0 75.1,758.4 76.4,756.9 77.7,756.4 79.0,754.9 80.3,753.8 81.1,752.3 81.9,751.2 82.8,749.8 83.6,747.3 84.4,746.1 85.2,744.5 85.6,743.2 86.0,741.1 86.4,739.8 86.8,738.1 87.2,737.1 87.5,734.9 87.9,734.1 88.3,731.8 88.7,730.1 89.1,729.1 89.3,727.2 89.5,725.1 89.7,724.1 89.9,721.7 90.1,720.9 90.3,719.1 90.5,717.6 90.8,715.7 91.0,713.7 91.2,712.0 91.4,710.4 91.6,709.4 91.8,706.6 92.0,706.1 92.2,703.1 92.4,701.7 92.6,700.1 92.8,699.4 93.0,697.1 93.2,695.2 93.4,694.3 93.5,691.6 93.7,690.3 93.9,688.7 94.1,687.4 94.3,685.7 94.5,683.8 94.7,681.6 94.9,679.9 95.1,678.0 95.3,677.6 95.6,675.6 95.8,674.1 96.0,671.5 96.2,670.3 96.4,669.3 96.6,667.3 96.8,664.9 97.1,663.9 97.3,663.1 97.5,660.2 97.8,658.4 98.2,656.9 98.5,656.0 98.8,654.6 99.1,651.5 99.5,649.8 99.8,648.3 100.1,650.2 100.4,652.3 100.7,653.3 100.9,655.4 101.2,656.9 101.5,660.1 101.8,661.4 102.1,661.9 102.4,665.3 102.7,665.4 103.0,667.7 103.3,670.5 103.5,671.9 103.8,673.5 104.1,674.6 104.4,675.9 104.7,678.4 104.9,679.2 105.1,681.1 105.3,683.1 105.5,684.2 105.7,686.5 105.9,688.8 106.1,690.4 106.2,691.7 106.4,693.7 106.6,695.1 106.8,696.3 107.0,698.7 107.2,700.1 107.4,702.3 107.6,704.2 107.8,705.1 108.1,707.0 108.3,708.8 108.6,710.0 108.8,711.3 109.0,713.7 109.3,715.5 109.5,717.0 109.8,718.5 110.0,720.3 110.3,721.7 110.5,723.3 110.8,724.8 111.1,726.3 111.5,728.4 111.8,729.5 112.1,731.6 112.4,733.8 112.8,735.4 113.1,737.0 113.4,738.3 114.0,740.2 114.5,741.9 115.1,743.7 115.6,745.2 116.2,747.1 116.7,749.0 117.3,750.0 118.5,751.9 119.8,753.5 121.0,754.6 122.2,756.2 124.0,757.1 125.7,757.1 127.5,758.0 129.2,758.3 131.0,759.3 132.9,759.7 134.9,759.8 136.9,760.0 138.8,760.5 140.4,760.6 142.0,760.8 143.6,760.8 145.2,761.0 146.8,761.2 148.4,761.2 150.0,761.3 150.0,761.6 66.0,761.6" fill="#5f5f5f" stroke="#222" stroke-width="0.9" stroke-linejoin="round"/>
<polyline points="138.4,714.0 138.5,712.6 138.6,712.5 138.7,709.7 138.9,709.5 139.0,707.7 139.1,707.3 139.2,704.6 139.7,705.4 140.2,702.8 140.8,701.0 141.3,700.3 141.8,699.5 143.2,697.4 144.5,697.3 145.6,696.5 146.7,696.3 148.1,694.8 149.5,693.9 150.6,692.5 151.6,692.5 153.4,693.9 153.9,691.2 154.5,688.7 154.6,691.4 154.7,691.7 154.8,692.6 154.9,693.6 155.1,696.5 155.2,697.9 155.3,698.7 155.4,699.6 155.6,701.1 155.8,701.7 156.1,704.7 156.3,704.6 156.5,706.5 156.7,708.2 157.0,709.5 157.2,710.0 157.4,711.0 157.6,712.8 157.8,713.2 158.1,716.0 158.3,716.3 158.5,718.6 158.7,718.7 159.0,720.2 159.2,721.2 159.4,722.9 159.6,723.6 159.8,724.5 160.1,727.0 160.3,727.4 160.5,728.5 160.7,729.8 161.0,731.4 161.2,732.5 161.4,734.0 161.6,735.3 161.9,736.0 162.1,738.1 162.3,739.2 162.7,739.1 163.1,741.4 163.5,742.7 163.9,743.7 164.2,743.9 164.6,746.1 165.0,747.0 165.4,747.3 165.8,748.5 166.2,750.9 166.9,751.5 167.6,752.0 168.4,752.8 169.1,753.8 169.8,754.9 170.6,756.4 171.3,757.0 172.0,757.8 173.2,759.0 174.4,759.4 175.6,759.5 176.8,760.5 178.0,760.8" fill="none" stroke="#2a2a2a" stroke-width="0.75" stroke-dasharray="2.4 0.9"/>
<polyline points="59.5,760.9 60.8,761.3 62.0,761.1 63.2,761.3 64.4,761.3 65.6,761.3 66.8,761.3 68.0,761.1 69.2,760.8 70.4,760.8 71.6,760.9 72.8,761.2 74.0,761.1 75.2,761.1 76.4,761.3 77.6,760.8 78.8,760.8 80.0,761.1 81.2,760.6 82.3,760.6 83.5,760.8 84.7,760.6 85.8,760.7 87.0,760.6 88.2,760.8 89.3,760.8 90.5,760.5 91.7,760.8 92.8,760.6 94.0,760.3 95.2,760.8 96.3,760.1 97.5,759.9 98.7,759.7 99.8,760.0 101.0,760.0 102.2,759.8 103.4,759.3 104.5,759.0 105.7,758.6 106.8,758.7 107.9,758.0 109.0,757.3 110.1,757.0 111.2,756.3 112.3,756.3 113.4,755.5 114.2,753.9 115.1,753.8 115.9,751.7 116.8,751.4 117.6,750.2 118.5,749.0 119.3,747.7 119.8,747.7 120.4,745.5 120.9,745.2 121.5,744.8 122.0,742.4 122.6,741.4 123.1,741.0 123.7,739.7 124.2,738.9 124.6,738.1 125.0,735.8 125.5,735.0 125.9,733.9 126.3,732.3 126.7,732.9 127.2,731.6 127.6,730.4 128.0,727.9 128.6,728.5 129.2,727.2 129.8,725.5 130.4,725.0 131.1,723.3 131.7,721.7 132.3,720.3 132.9,719.5 133.9,718.3 134.9,718.1 135.9,718.3 136.8,717.3 137.8,716.9 138.8,715.8 139.8,713.8 140.8,713.5 141.8,712.2 142.8,712.1 144.0,710.7 145.2,709.4 146.3,709.6 147.5,709.6 148.8,707.3 150.0,708.4 151.2,705.8 152.5,705.9 153.8,705.6 155.2,706.6 156.5,706.9 157.8,706.6 159.0,705.8 160.3,707.4 161.1,707.1 161.9,707.9 162.7,710.5 163.5,710.8 164.2,712.2 164.8,713.3 165.5,715.2 166.2,715.2 166.7,717.2 167.2,718.0 167.6,719.5 168.1,719.7 168.6,721.5 169.1,722.3 169.6,722.8 170.1,723.8 170.6,725.8 171.0,725.8 171.5,728.6 172.0,728.2 172.5,729.1 173.0,730.4 173.5,733.1 174.0,733.1 174.5,733.9 174.9,734.8 175.4,736.0 175.9,738.3 176.4,739.3 176.9,740.6 177.4,741.8 177.9,741.8 178.4,743.7 179.0,744.4 179.5,746.2 180.0,747.2 180.5,748.4 181.1,748.2 181.6,750.5 182.1,751.6 182.6,752.7 183.2,752.6 183.7,753.8 184.5,754.5 185.4,755.2 186.2,756.9 187.1,757.6 187.9,758.2 188.8,759.2 189.7,759.7 190.5,760.2 191.7,760.2 192.9,760.3 194.1,761.0 195.2,760.7 196.4,760.9 197.6,761.1 198.8,761.0 200.0,761.2 201.2,761.2 202.5,761.3 203.7,761.2 204.9,761.1 206.2,761.3 207.4,761.2 208.6,761.3 209.9,761.1 211.1,760.7 212.3,760.9 213.6,760.9 214.8,760.9" fill="none" stroke="#000" stroke-width="2.1" stroke-linejoin="miter" stroke-miterlimit="3"/>
<path d="M58.50 619.50 H216.05" fill="none" stroke="#b8b8b8" stroke-width="1.1"/>
<path d="M215.50 619.50 V761.60" fill="none" stroke="#222" stroke-width="1.1"/>
<path d="M58.50 619.50 V762.50" fill="none" stroke="#000" stroke-width="1.4"/>
<path d="M57.80 761.60 H216.00" fill="none" stroke="#000" stroke-width="2"/>
<line x1="54.70" x2="58.50" y1="619.50" y2="619.50" stroke="#000" stroke-width="1.1"/>
<line x1="55.90" x2="58.50" y1="625.18" y2="625.18" stroke="#444" stroke-width="0.9"/>
<line x1="55.90" x2="58.50" y1="630.87" y2="630.87" stroke="#444" stroke-width="0.9"/>
<line x1="55.90" x2="58.50" y1="636.55" y2="636.55" stroke="#444" stroke-width="0.9"/>
<line x1="55.90" x2="58.50" y1="642.24" y2="642.24" stroke="#444" stroke-width="0.9"/>
<line x1="54.70" x2="58.50" y1="647.92" y2="647.92" stroke="#000" stroke-width="1.1"/>
<line x1="55.90" x2="58.50" y1="653.60" y2="653.60" stroke="#444" stroke-width="0.9"/>
<line x1="55.90" x2="58.50" y1="659.29" y2="659.29" stroke="#444" stroke-width="0.9"/>
<line x1="55.90" x2="58.50" y1="664.97" y2="664.97" stroke="#444" stroke-width="0.9"/>
<line x1="55.90" x2="58.50" y1="670.66" y2="670.66" stroke="#444" stroke-width="0.9"/>
<line x1="54.70" x2="58.50" y1="676.34" y2="676.34" stroke="#000" stroke-width="1.1"/>
<line x1="55.90" x2="58.50" y1="682.02" y2="682.02" stroke="#444" stroke-width="0.9"/>
<line x1="55.90" x2="58.50" y1="687.71" y2="687.71" stroke="#444" stroke-width="0.9"/>
<line x1="55.90" x2="58.50" y1="693.39" y2="693.39" stroke="#444" stroke-width="0.9"/>
<line x1="55.90" x2="58.50" y1="699.08" y2="699.08" stroke="#444" stroke-width="0.9"/>
<line x1="54.70" x2="58.50" y1="704.76" y2="704.76" stroke="#000" stroke-width="1.1"/>
<line x1="55.90" x2="58.50" y1="710.44" y2="710.44" stroke="#444" stroke-width="0.9"/>
<line x1="55.90" x2="58.50" y1="716.13" y2="716.13" stroke="#444" stroke-width="0.9"/>
<line x1="55.90" x2="58.50" y1="721.81" y2="721.81" stroke="#444" stroke-width="0.9"/>
<line x1="55.90" x2="58.50" y1="727.50" y2="727.50" stroke="#444" stroke-width="0.9"/>
<line x1="54.70" x2="58.50" y1="733.18" y2="733.18" stroke="#000" stroke-width="1.1"/>
<line x1="55.90" x2="58.50" y1="738.86" y2="738.86" stroke="#444" stroke-width="0.9"/>
<line x1="55.90" x2="58.50" y1="744.55" y2="744.55" stroke="#444" stroke-width="0.9"/>
<line x1="55.90" x2="58.50" y1="750.23" y2="750.23" stroke="#444" stroke-width="0.9"/>
<line x1="55.90" x2="58.50" y1="755.92" y2="755.92" stroke="#444" stroke-width="0.9"/>
<line x1="54.70" x2="58.50" y1="761.60" y2="761.60" stroke="#000" stroke-width="1.1"/>
<line x1="59.70" x2="59.70" y1="761.60" y2="766.20" stroke="#000" stroke-width="1.1"/>
<line x1="71.45" x2="71.45" y1="761.60" y2="764.60" stroke="#222" stroke-width="0.8"/>
<line x1="78.32" x2="78.32" y1="761.60" y2="764.60" stroke="#222" stroke-width="0.8"/>
<line x1="83.20" x2="83.20" y1="761.60" y2="764.60" stroke="#222" stroke-width="0.8"/>
<line x1="86.98" x2="86.98" y1="761.60" y2="764.60" stroke="#222" stroke-width="0.8"/>
<line x1="90.07" x2="90.07" y1="761.60" y2="764.60" stroke="#222" stroke-width="0.8"/>
<line x1="92.68" x2="92.68" y1="761.60" y2="764.60" stroke="#222" stroke-width="0.8"/>
<line x1="94.94" x2="94.94" y1="761.60" y2="764.60" stroke="#222" stroke-width="0.8"/>
<line x1="96.94" x2="96.94" y1="761.60" y2="764.60" stroke="#222" stroke-width="0.8"/>
<line x1="98.72" x2="98.72" y1="761.60" y2="766.20" stroke="#000" stroke-width="1.1"/>
<line x1="110.47" x2="110.47" y1="761.60" y2="764.60" stroke="#222" stroke-width="0.8"/>
<line x1="117.34" x2="117.34" y1="761.60" y2="764.60" stroke="#222" stroke-width="0.8"/>
<line x1="122.22" x2="122.22" y1="761.60" y2="764.60" stroke="#222" stroke-width="0.8"/>
<line x1="126.00" x2="126.00" y1="761.60" y2="764.60" stroke="#222" stroke-width="0.8"/>
<line x1="129.09" x2="129.09" y1="761.60" y2="764.60" stroke="#222" stroke-width="0.8"/>
<line x1="131.70" x2="131.70" y1="761.60" y2="764.60" stroke="#222" stroke-width="0.8"/>
<line x1="133.97" x2="133.97" y1="761.60" y2="764.60" stroke="#222" stroke-width="0.8"/>
<line x1="135.96" x2="135.96" y1="761.60" y2="764.60" stroke="#222" stroke-width="0.8"/>
<line x1="137.75" x2="137.75" y1="761.60" y2="766.20" stroke="#000" stroke-width="1.1"/>
<line x1="149.50" x2="149.50" y1="761.60" y2="764.60" stroke="#222" stroke-width="0.8"/>
<line x1="156.37" x2="156.37" y1="761.60" y2="764.60" stroke="#222" stroke-width="0.8"/>
<line x1="161.25" x2="161.25" y1="761.60" y2="764.60" stroke="#222" stroke-width="0.8"/>
<line x1="165.03" x2="165.03" y1="761.60" y2="764.60" stroke="#222" stroke-width="0.8"/>
<line x1="168.12" x2="168.12" y1="761.60" y2="764.60" stroke="#222" stroke-width="0.8"/>
<line x1="170.73" x2="170.73" y1="761.60" y2="764.60" stroke="#222" stroke-width="0.8"/>
<line x1="172.99" x2="172.99" y1="761.60" y2="764.60" stroke="#222" stroke-width="0.8"/>
<line x1="174.99" x2="174.99" y1="761.60" y2="764.60" stroke="#222" stroke-width="0.8"/>
<line x1="176.77" x2="176.77" y1="761.60" y2="766.20" stroke="#000" stroke-width="1.1"/>
<line x1="188.52" x2="188.52" y1="761.60" y2="764.60" stroke="#222" stroke-width="0.8"/>
<line x1="195.39" x2="195.39" y1="761.60" y2="764.60" stroke="#222" stroke-width="0.8"/>
<line x1="200.27" x2="200.27" y1="761.60" y2="764.60" stroke="#222" stroke-width="0.8"/>
<line x1="204.05" x2="204.05" y1="761.60" y2="764.60" stroke="#222" stroke-width="0.8"/>
<line x1="207.14" x2="207.14" y1="761.60" y2="764.60" stroke="#222" stroke-width="0.8"/>
<line x1="209.75" x2="209.75" y1="761.60" y2="764.60" stroke="#222" stroke-width="0.8"/>
<line x1="212.02" x2="212.02" y1="761.60" y2="764.60" stroke="#222" stroke-width="0.8"/>
<line x1="214.01" x2="214.01" y1="761.60" y2="764.60" stroke="#222" stroke-width="0.8"/>
<line x1="215.80" x2="215.80" y1="761.60" y2="766.20" stroke="#000" stroke-width="1.1"/>
<text x="50.40" y="626.20" font-size="17.8" text-anchor="end" >300</text>
<text x="44.90" y="766.80" font-size="17.8" text-anchor="end" >0</text>
<text transform="translate(35.80,686.10) rotate(-90)" font-size="17.8" text-anchor="middle">Counts</text>
<text x="66.80" y="635.80" font-size="14.1" text-anchor="start" >CD54</text>
<text x="110.40" y="651.60" font-size="14.1" text-anchor="start" >Isotype</text>
<text x="129.80" y="672.30" font-size="14.1" text-anchor="start" >LPS-treated</text>
<text x="161.20" y="691.90" font-size="14.1" text-anchor="start" >LPS+Irr.</text>
<line x1="114.20" y1="660.20" x2="108.49" y2="666.52" stroke="#000" stroke-width="1.35"/>
<polygon points="104.80,670.60 106.63,664.84 110.34,668.20" fill="#000"/>
<line x1="143.60" y1="678.00" x2="147.72" y2="685.40" stroke="#000" stroke-width="1.35"/>
<polygon points="150.40,690.20 145.54,686.61 149.91,684.18" fill="#000"/>
<line x1="186.80" y1="696.60" x2="171.03" y2="711.26" stroke="#000" stroke-width="1.35"/>
<polygon points="167.00,715.00 169.33,709.42 172.73,713.09" fill="#000"/>
<text x="64.90" y="788.20" font-size="17.6" text-anchor="end" >10</text>
<text x="65.60" y="780.30" font-size="14.0" text-anchor="start" >0</text>
<text x="106.20" y="788.20" font-size="17.6" text-anchor="end" >10</text>
<text x="105.50" y="780.30" font-size="14.0" text-anchor="start" >1</text>
<text x="144.20" y="788.20" font-size="17.6" text-anchor="end" >10</text>
<text x="144.60" y="780.30" font-size="14.0" text-anchor="start" >2</text>
<text x="183.20" y="788.20" font-size="17.6" text-anchor="end" >10</text>
<text x="183.80" y="780.30" font-size="14.0" text-anchor="start" >3</text>
<text x="222.10" y="788.20" font-size="17.6" text-anchor="end" >10</text>
<text x="222.70" y="780.30" font-size="14.0" text-anchor="start" >4</text>
<polygon points="291.7,444.9 292.9,444.9 294.0,445.0 295.2,444.8 296.4,444.9 297.5,444.8 298.7,444.7 299.8,444.2 301.0,444.5 302.2,444.3 303.3,444.4 304.5,444.0 305.7,444.2 306.9,443.7 308.1,443.2 309.3,443.0 310.5,442.6 311.7,442.8 312.9,442.1 314.1,442.3 315.3,441.7 316.5,441.9 317.7,441.6 318.9,441.5 320.1,441.6 321.2,440.0 322.2,440.4 323.3,439.3 324.4,438.8 325.4,438.3 326.5,437.9 327.5,436.7 328.6,436.1 329.7,436.3 330.7,434.4 331.8,434.6 332.5,433.7 333.3,431.9 334.0,431.9 334.8,431.1 335.5,430.6 336.3,428.7 337.0,428.9 337.8,427.2 338.5,426.3 339.3,426.1 340.0,423.7 340.8,424.0 341.5,422.9 342.0,421.3 342.5,421.1 342.9,419.0 343.4,418.1 343.9,417.0 344.4,416.4 344.9,414.1 345.4,413.4 345.9,412.3 346.3,411.4 346.8,410.8 347.3,408.6 347.8,408.5 348.3,406.5 348.8,405.5 349.3,403.9 349.8,403.2 350.2,403.1 350.7,401.2 351.2,400.4 351.7,398.2 352.2,397.0 353.0,395.9 353.9,395.5 354.7,394.6 355.5,393.9 356.8,391.1 358.1,391.8 359.3,393.3 360.5,393.6 361.1,393.4 361.8,395.0 362.4,395.2 363.0,396.7 364.0,399.3 365.0,399.6 365.8,400.7 366.5,402.0 367.3,403.3 368.0,403.7 368.8,404.8 369.2,406.1 369.6,407.5 370.0,408.6 370.4,410.1 370.8,410.4 371.6,412.2 372.5,412.6 373.3,414.0 374.2,413.5 375.0,414.5 375.9,415.1 376.7,417.3 377.6,418.3 378.6,418.4 379.6,418.6 380.5,420.1 381.5,420.8 382.5,421.2 383.5,421.5 384.5,422.3 384.9,423.6 385.4,424.5 385.8,425.8 386.3,427.2 386.7,428.7 387.2,428.4 387.6,430.3 388.1,430.5 388.5,431.7 389.0,433.8 389.4,434.5 390.1,436.1 390.8,436.6 391.5,437.1 392.1,438.7 392.8,440.1 393.5,441.6 394.2,442.7 395.3,442.5 396.4,442.7 397.5,442.7 398.7,443.5 399.8,443.4 400.9,443.7 402.0,443.9 403.2,444.0 404.4,444.6 405.6,444.2 406.8,444.9 408.0,444.3 409.2,445.0 410.4,444.5 411.6,444.5 412.8,445.1 414.0,444.8 415.2,445.2 416.4,444.9 417.6,444.9 418.8,445.3 420.0,445.3 421.2,445.3 422.4,445.3 423.5,445.0 424.7,445.3 425.9,445.3 427.1,445.2 428.3,445.3 429.5,445.0 430.6,445.3 431.8,445.3 433.0,444.8 434.2,444.8 435.4,445.2 436.6,445.3 437.7,444.7 438.9,444.9 440.1,445.2 441.3,444.7 442.5,445.2 443.7,444.9 444.8,444.6 446.0,444.8 447.2,444.9 447.2,445.6 291.7,445.6" fill="#e0e0e0"/>
<polygon points="292.0,445.2 293.8,445.1 295.5,444.9 297.2,444.9 299.0,444.6 300.8,444.8 302.5,444.4 304.1,443.7 305.6,442.9 307.2,441.9 308.7,441.0 310.3,440.4 311.3,439.2 312.3,437.8 313.2,436.4 314.2,434.8 315.2,433.3 316.2,432.8 316.6,431.0 317.0,429.6 317.4,427.6 317.8,426.3 318.1,425.1 318.5,423.4 318.9,421.6 319.3,419.7 319.7,418.3 320.1,417.3 320.3,415.0 320.5,413.7 320.8,412.0 321.0,410.7 321.2,409.0 321.4,406.6 321.7,404.6 321.9,403.3 322.1,401.9 322.3,400.5 322.6,399.1 322.8,397.6 323.0,394.7 323.2,394.2 323.4,392.5 323.6,390.9 323.8,388.8 324.0,386.7 324.2,385.9 324.4,384.2 324.7,382.3 324.9,381.0 325.1,378.4 325.3,376.3 325.5,375.4 325.7,374.2 325.9,371.5 326.1,370.8 326.2,369.4 326.4,366.5 326.6,365.5 326.8,364.0 326.9,362.0 327.1,359.8 327.3,358.2 327.4,357.5 327.6,355.9 327.8,353.6 328.0,351.3 328.1,350.9 328.3,349.2 328.5,346.5 328.7,345.4 328.9,344.3 329.1,342.5 329.4,340.1 329.6,338.3 329.8,336.7 330.0,334.2 330.2,332.5 330.7,330.8 331.3,330.1 331.8,327.7 332.2,329.9 332.6,331.4 332.9,333.4 333.3,334.5 333.7,336.1 333.9,339.6 334.1,340.0 334.3,341.1 334.5,343.7 334.7,345.6 334.9,346.0 335.0,348.5 335.2,349.6 335.4,351.6 335.6,352.3 335.8,353.9 336.0,357.3 336.2,358.7 336.4,359.7 336.6,361.5 336.7,362.7 336.9,365.2 337.1,366.3 337.3,368.9 337.5,370.2 337.7,372.0 337.9,373.9 338.0,374.4 338.2,375.7 338.4,377.6 338.6,379.3 338.8,380.8 339.0,382.4 339.2,384.9 339.4,387.1 339.6,388.1 339.8,390.5 340.1,392.1 340.3,392.5 340.5,395.0 340.7,396.4 340.9,397.7 341.1,400.5 341.3,401.2 341.5,403.3 341.7,405.0 342.0,407.0 342.2,408.3 342.5,409.6 342.7,411.3 342.9,412.5 343.2,415.1 343.4,416.8 343.7,417.5 343.9,418.9 344.2,420.8 344.4,422.5 344.8,424.8 345.2,426.5 345.6,428.0 346.1,429.0 346.5,431.3 346.9,432.9 347.3,434.5 348.3,436.2 349.3,436.8 350.2,438.2 351.2,440.0 352.2,441.5 354.0,441.9 355.7,442.2 357.5,443.0 359.2,443.7 361.0,443.9 362.8,444.2 364.5,444.3 366.2,444.4 368.0,444.7 369.8,444.7 371.5,444.9 373.2,445.0 375.0,445.3 375.0,445.6 292.0,445.6" fill="#5f5f5f" stroke="#222" stroke-width="0.9" stroke-linejoin="round"/>
<polyline points="306.0,444.5 307.2,444.4 308.5,443.7 309.8,444.0 311.0,443.4 312.2,443.0 313.5,443.5 314.8,442.7 316.0,443.1 317.2,442.8 318.5,442.6 319.8,441.7 321.0,441.8 322.0,440.8 323.1,441.0 324.1,440.3 325.2,439.5 326.2,438.7 327.3,437.9 328.3,437.8 329.4,436.8 330.4,436.4 331.5,435.2 332.5,434.7 333.3,433.5 334.1,433.4 334.9,432.2 335.7,430.7 336.5,430.7 337.2,428.9 338.0,428.2 338.8,426.8 339.6,426.0 340.4,425.9 341.2,424.2 342.0,423.0 342.5,422.4 343.0,421.0 343.5,420.8 344.0,418.3 344.5,418.7 345.0,416.0 345.5,416.3 346.0,414.8 346.5,412.8 347.0,412.2 347.5,410.7 348.0,409.5 348.5,408.3 349.0,407.4 349.4,407.5 349.9,406.4 350.4,405.1 350.9,402.3 351.4,401.5 351.8,401.6 352.3,398.7 352.8,399.0 353.6,396.9 354.5,397.3 355.4,394.1 356.2,394.7 357.6,392.9 359.0,391.7 360.3,392.2 361.6,394.7 362.6,394.9 363.5,395.0 364.5,396.4 366.0,397.9 367.5,396.9 368.5,398.8 369.5,399.1 370.5,400.3 371.1,402.9 371.7,404.0 372.2,404.3 372.8,405.4 373.4,406.7 374.4,408.7 375.4,409.5 376.5,410.1 377.5,411.0 378.5,412.5 379.5,413.4 380.5,414.3 381.5,414.6 382.5,414.8 383.5,415.5 384.5,417.5 385.5,417.8 386.1,419.6 386.7,419.7 387.3,422.1 387.9,422.5 388.5,424.5 388.9,425.7 389.4,426.2 389.8,426.7 390.2,429.1 390.7,429.6 391.1,431.3 391.6,431.6 392.0,432.6 392.7,434.6 393.4,435.2 394.1,436.1 394.8,437.5 395.5,438.9 396.2,439.5 397.2,440.7 398.1,441.4 399.1,442.2 400.0,442.6 401.0,443.8 402.3,444.0 403.6,444.3 404.9,444.1 406.1,444.6 407.4,444.5 408.7,445.0 410.0,445.0" fill="none" stroke="#2a2a2a" stroke-width="0.75" stroke-dasharray="2.2 1.1"/>
<polyline points="291.7,444.9 292.9,444.9 294.0,445.0 295.2,444.8 296.4,444.9 297.5,444.8 298.7,444.7 299.8,444.2 301.0,444.5 302.2,444.3 303.3,444.4 304.5,444.0 305.7,444.2 306.9,443.7 308.1,443.2 309.3,443.0 310.5,442.6 311.7,442.8 312.9,442.1 314.1,442.3 315.3,441.7 316.5,441.9 317.7,441.6 318.9,441.5 320.1,441.6 321.2,440.0 322.2,440.4 323.3,439.3 324.4,438.8 325.4,438.3 326.5,437.9 327.5,436.7 328.6,436.1 329.7,436.3 330.7,434.4 331.8,434.6 332.5,433.7 333.3,431.9 334.0,431.9 334.8,431.1 335.5,430.6 336.3,428.7 337.0,428.9 337.8,427.2 338.5,426.3 339.3,426.1 340.0,423.7 340.8,424.0 341.5,422.9 342.0,421.3 342.5,421.1 342.9,419.0 343.4,418.1 343.9,417.0 344.4,416.4 344.9,414.1 345.4,413.4 345.9,412.3 346.3,411.4 346.8,410.8 347.3,408.6 347.8,408.5 348.3,406.5 348.8,405.5 349.3,403.9 349.8,403.2 350.2,403.1 350.7,401.2 351.2,400.4 351.7,398.2 352.2,397.0 353.0,395.9 353.9,395.5 354.7,394.6 355.5,393.9 356.8,391.1 358.1,391.8 359.3,393.3 360.5,393.6 361.1,393.4 361.8,395.0 362.4,395.2 363.0,396.7 364.0,399.3 365.0,399.6 365.8,400.7 366.5,402.0 367.3,403.3 368.0,403.7 368.8,404.8 369.2,406.1 369.6,407.5 370.0,408.6 370.4,410.1 370.8,410.4 371.6,412.2 372.5,412.6 373.3,414.0 374.2,413.5 375.0,414.5 375.9,415.1 376.7,417.3 377.6,418.3 378.6,418.4 379.6,418.6 380.5,420.1 381.5,420.8 382.5,421.2 383.5,421.5 384.5,422.3 384.9,423.6 385.4,424.5 385.8,425.8 386.3,427.2 386.7,428.7 387.2,428.4 387.6,430.3 388.1,430.5 388.5,431.7 389.0,433.8 389.4,434.5 390.1,436.1 390.8,436.6 391.5,437.1 392.1,438.7 392.8,440.1 393.5,441.6 394.2,442.7 395.3,442.5 396.4,442.7 397.5,442.7 398.7,443.5 399.8,443.4 400.9,443.7 402.0,443.9 403.2,444.0 404.4,444.6 405.6,444.2 406.8,444.9 408.0,444.3 409.2,445.0 410.4,444.5 411.6,444.5 412.8,445.1 414.0,444.8 415.2,445.2 416.4,444.9 417.6,444.9 418.8,445.3 420.0,445.3 421.2,445.3 422.4,445.3 423.5,445.0 424.7,445.3 425.9,445.3 427.1,445.2 428.3,445.3 429.5,445.0 430.6,445.3 431.8,445.3 433.0,444.8 434.2,444.8 435.4,445.2 436.6,445.3 437.7,444.7 438.9,444.9 440.1,445.2 441.3,444.7 442.5,445.2 443.7,444.9 444.8,444.6 446.0,444.8 447.2,444.9" fill="none" stroke="#000" stroke-width="2.1" stroke-linejoin="miter" stroke-miterlimit="3"/>
<path d="M290.50 303.50 H449.05" fill="none" stroke="#666" stroke-width="1.1"/>
<path d="M448.50 303.50 V445.60" fill="none" stroke="#777" stroke-width="1.1"/>
<path d="M290.50 303.50 V446.50" fill="none" stroke="#000" stroke-width="1.4"/>
<path d="M289.80 445.60 H449.00" fill="none" stroke="#000" stroke-width="2"/>
<line x1="286.70" x2="290.50" y1="303.50" y2="303.50" stroke="#000" stroke-width="1.1"/>
<line x1="287.90" x2="290.50" y1="309.18" y2="309.18" stroke="#444" stroke-width="0.9"/>
<line x1="287.90" x2="290.50" y1="314.87" y2="314.87" stroke="#444" stroke-width="0.9"/>
<line x1="287.90" x2="290.50" y1="320.55" y2="320.55" stroke="#444" stroke-width="0.9"/>
<line x1="287.90" x2="290.50" y1="326.24" y2="326.24" stroke="#444" stroke-width="0.9"/>
<line x1="286.70" x2="290.50" y1="331.92" y2="331.92" stroke="#000" stroke-width="1.1"/>
<line x1="287.90" x2="290.50" y1="337.60" y2="337.60" stroke="#444" stroke-width="0.9"/>
<line x1="287.90" x2="290.50" y1="343.29" y2="343.29" stroke="#444" stroke-width="0.9"/>
<line x1="287.90" x2="290.50" y1="348.97" y2="348.97" stroke="#444" stroke-width="0.9"/>
<line x1="287.90" x2="290.50" y1="354.66" y2="354.66" stroke="#444" stroke-width="0.9"/>
<line x1="286.70" x2="290.50" y1="360.34" y2="360.34" stroke="#000" stroke-width="1.1"/>
<line x1="287.90" x2="290.50" y1="366.02" y2="366.02" stroke="#444" stroke-width="0.9"/>
<line x1="287.90" x2="290.50" y1="371.71" y2="371.71" stroke="#444" stroke-width="0.9"/>
<line x1="287.90" x2="290.50" y1="377.39" y2="377.39" stroke="#444" stroke-width="0.9"/>
<line x1="287.90" x2="290.50" y1="383.08" y2="383.08" stroke="#444" stroke-width="0.9"/>
<line x1="286.70" x2="290.50" y1="388.76" y2="388.76" stroke="#000" stroke-width="1.1"/>
<line x1="287.90" x2="290.50" y1="394.44" y2="394.44" stroke="#444" stroke-width="0.9"/>
<line x1="287.90" x2="290.50" y1="400.13" y2="400.13" stroke="#444" stroke-width="0.9"/>
<line x1="287.90" x2="290.50" y1="405.81" y2="405.81" stroke="#444" stroke-width="0.9"/>
<line x1="287.90" x2="290.50" y1="411.50" y2="411.50" stroke="#444" stroke-width="0.9"/>
<line x1="286.70" x2="290.50" y1="417.18" y2="417.18" stroke="#000" stroke-width="1.1"/>
<line x1="287.90" x2="290.50" y1="422.86" y2="422.86" stroke="#444" stroke-width="0.9"/>
<line x1="287.90" x2="290.50" y1="428.55" y2="428.55" stroke="#444" stroke-width="0.9"/>
<line x1="287.90" x2="290.50" y1="434.23" y2="434.23" stroke="#444" stroke-width="0.9"/>
<line x1="287.90" x2="290.50" y1="439.92" y2="439.92" stroke="#444" stroke-width="0.9"/>
<line x1="286.70" x2="290.50" y1="445.60" y2="445.60" stroke="#000" stroke-width="1.1"/>
<line x1="291.90" x2="291.90" y1="445.60" y2="450.20" stroke="#000" stroke-width="1.1"/>
<line x1="303.66" x2="303.66" y1="445.60" y2="448.60" stroke="#222" stroke-width="0.8"/>
<line x1="310.54" x2="310.54" y1="445.60" y2="448.60" stroke="#222" stroke-width="0.8"/>
<line x1="315.43" x2="315.43" y1="445.60" y2="448.60" stroke="#222" stroke-width="0.8"/>
<line x1="319.21" x2="319.21" y1="445.60" y2="448.60" stroke="#222" stroke-width="0.8"/>
<line x1="322.31" x2="322.31" y1="445.60" y2="448.60" stroke="#222" stroke-width="0.8"/>
<line x1="324.92" x2="324.92" y1="445.60" y2="448.60" stroke="#222" stroke-width="0.8"/>
<line x1="327.19" x2="327.19" y1="445.60" y2="448.60" stroke="#222" stroke-width="0.8"/>
<line x1="329.19" x2="329.19" y1="445.60" y2="448.60" stroke="#222" stroke-width="0.8"/>
<line x1="330.97" x2="330.97" y1="445.60" y2="450.20" stroke="#000" stroke-width="1.1"/>
<line x1="342.74" x2="342.74" y1="445.60" y2="448.60" stroke="#222" stroke-width="0.8"/>
<line x1="349.62" x2="349.62" y1="445.60" y2="448.60" stroke="#222" stroke-width="0.8"/>
<line x1="354.50" x2="354.50" y1="445.60" y2="448.60" stroke="#222" stroke-width="0.8"/>
<line x1="358.29" x2="358.29" y1="445.60" y2="448.60" stroke="#222" stroke-width="0.8"/>
<line x1="361.38" x2="361.38" y1="445.60" y2="448.60" stroke="#222" stroke-width="0.8"/>
<line x1="364.00" x2="364.00" y1="445.60" y2="448.60" stroke="#222" stroke-width="0.8"/>
<line x1="366.26" x2="366.26" y1="445.60" y2="448.60" stroke="#222" stroke-width="0.8"/>
<line x1="368.26" x2="368.26" y1="445.60" y2="448.60" stroke="#222" stroke-width="0.8"/>
<line x1="370.05" x2="370.05" y1="445.60" y2="450.20" stroke="#000" stroke-width="1.1"/>
<line x1="381.81" x2="381.81" y1="445.60" y2="448.60" stroke="#222" stroke-width="0.8"/>
<line x1="388.69" x2="388.69" y1="445.60" y2="448.60" stroke="#222" stroke-width="0.8"/>
<line x1="393.58" x2="393.58" y1="445.60" y2="448.60" stroke="#222" stroke-width="0.8"/>
<line x1="397.36" x2="397.36" y1="445.60" y2="448.60" stroke="#222" stroke-width="0.8"/>
<line x1="400.46" x2="400.46" y1="445.60" y2="448.60" stroke="#222" stroke-width="0.8"/>
<line x1="403.07" x2="403.07" y1="445.60" y2="448.60" stroke="#222" stroke-width="0.8"/>
<line x1="405.34" x2="405.34" y1="445.60" y2="448.60" stroke="#222" stroke-width="0.8"/>
<line x1="407.34" x2="407.34" y1="445.60" y2="448.60" stroke="#222" stroke-width="0.8"/>
<line x1="409.12" x2="409.12" y1="445.60" y2="450.20" stroke="#000" stroke-width="1.1"/>
<line x1="420.89" x2="420.89" y1="445.60" y2="448.60" stroke="#222" stroke-width="0.8"/>
<line x1="427.77" x2="427.77" y1="445.60" y2="448.60" stroke="#222" stroke-width="0.8"/>
<line x1="432.65" x2="432.65" y1="445.60" y2="448.60" stroke="#222" stroke-width="0.8"/>
<line x1="436.44" x2="436.44" y1="445.60" y2="448.60" stroke="#222" stroke-width="0.8"/>
<line x1="439.53" x2="439.53" y1="445.60" y2="448.60" stroke="#222" stroke-width="0.8"/>
<line x1="442.15" x2="442.15" y1="445.60" y2="448.60" stroke="#222" stroke-width="0.8"/>
<line x1="444.41" x2="444.41" y1="445.60" y2="448.60" stroke="#222" stroke-width="0.8"/>
<line x1="446.41" x2="446.41" y1="445.60" y2="448.60" stroke="#222" stroke-width="0.8"/>
<line x1="448.20" x2="448.20" y1="445.60" y2="450.20" stroke="#000" stroke-width="1.1"/>
<text x="282.10" y="309.40" font-size="17.8" text-anchor="end" >300</text>
<text x="276.70" y="450.00" font-size="17.8" text-anchor="end" >0</text>
<text transform="translate(266.20,368.90) rotate(-90)" font-size="17.8" text-anchor="middle">Counts</text>
<text x="305.20" y="319.10" font-size="14.1" text-anchor="start" >CD86</text>
<text x="357.40" y="336.00" font-size="14.1" text-anchor="start" >Isotype</text>
<text x="362.20" y="374.00" font-size="14.1" text-anchor="start" >LPS-treated</text>
<text x="389.00" y="397.60" font-size="14.1" text-anchor="start" >LPS+Irr.</text>
<line x1="351.20" y1="336.20" x2="342.18" y2="340.87" stroke="#000" stroke-width="1.35"/>
<polygon points="337.30,343.40 341.03,338.65 343.33,343.09" fill="#000"/>
<line x1="389.20" y1="377.60" x2="375.51" y2="395.80" stroke="#000" stroke-width="1.35"/>
<polygon points="372.20,400.20 373.51,394.30 377.50,397.31" fill="#000"/>
<line x1="389.20" y1="402.60" x2="378.17" y2="407.84" stroke="#000" stroke-width="1.35"/>
<polygon points="373.20,410.20 377.10,405.58 379.24,410.10" fill="#000"/>
<polygon points="292.8,604.7 293.9,604.4 295.1,605.0 296.2,605.1 297.4,604.8 298.6,604.8 299.7,604.9 300.9,604.9 302.0,604.5 303.2,605.1 304.3,604.7 305.4,604.7 306.6,604.7 307.8,604.8 308.9,605.1 310.1,604.7 311.2,604.8 312.4,605.1 313.5,604.9 314.6,604.8 315.8,605.1 316.9,605.1 318.1,605.1 319.2,605.1 320.4,605.0 321.6,605.1 322.7,605.1 323.9,605.0 325.0,605.1 326.2,605.0 327.5,604.8 328.8,604.3 330.0,604.0 331.2,603.9 332.5,603.4 333.8,603.5 335.0,603.5 336.2,602.6 337.4,602.7 338.6,602.5 339.8,601.7 341.0,602.0 342.2,601.9 343.4,601.0 344.4,600.2 345.4,599.9 346.4,598.7 347.3,597.7 348.3,597.6 349.3,596.6 350.1,595.0 350.9,593.9 351.6,593.1 352.4,592.3 353.2,592.1 353.7,590.8 354.3,589.9 354.8,588.6 355.4,587.6 355.9,585.2 356.5,584.9 357.0,584.6 357.6,583.5 358.1,581.1 358.6,580.3 359.1,579.5 359.5,577.9 360.0,577.0 360.5,575.0 361.0,574.5 361.5,573.5 361.9,571.3 362.4,570.4 362.9,571.0 363.3,569.5 363.8,568.8 364.2,567.1 364.7,566.4 365.1,565.5 365.6,564.5 366.0,561.5 366.5,561.8 366.9,559.9 367.4,559.8 367.8,557.8 368.2,557.3 368.7,557.1 369.1,555.2 369.5,553.2 369.9,552.8 370.4,551.5 370.8,551.6 371.3,548.8 371.9,547.7 372.4,547.4 372.9,544.9 373.5,544.9 374.0,544.7 374.7,542.6 375.5,540.9 376.2,540.5 377.0,539.7 377.7,537.7 378.4,538.7 379.1,539.8 379.8,541.4 380.5,542.8 381.1,543.5 381.8,544.4 382.4,545.1 383.1,547.3 383.7,549.1 384.2,549.6 384.7,550.6 385.2,551.9 385.7,551.9 386.2,554.2 386.8,554.7 387.3,556.0 387.8,557.3 388.3,558.0 388.8,558.8 389.2,559.7 389.5,560.8 389.9,562.6 390.3,563.5 390.7,565.0 391.0,564.9 391.4,566.8 391.8,569.0 392.1,568.8 392.5,570.6 392.9,571.6 393.3,572.3 393.6,574.9 394.0,574.6 394.5,576.6 395.1,576.6 395.6,577.5 396.1,580.2 396.7,580.5 397.2,580.9 397.7,582.6 398.3,583.8 398.8,585.5 399.3,585.5 399.9,586.8 400.4,589.1 401.2,589.7 401.9,589.8 402.7,591.0 403.4,592.0 404.2,593.5 405.0,594.3 405.7,595.6 406.5,596.5 407.2,597.1 408.0,598.3 409.0,598.9 410.0,599.5 411.0,599.8 412.0,600.7 413.0,601.2 414.0,602.0 415.0,601.8 416.0,603.1 417.0,603.0 418.2,603.8 419.4,603.8 420.5,603.8 421.7,604.4 422.9,604.2 424.1,604.2 425.3,604.6 426.5,604.8 427.6,604.8 428.8,604.8 430.0,605.0 431.2,605.0 432.4,605.1 433.6,604.9 434.8,605.0 436.0,605.1 437.2,605.0 438.4,605.0 439.6,605.1 440.8,605.1 442.0,605.1 443.2,605.1 444.4,605.0 445.6,605.1 446.8,605.1 448.0,605.1 448.6,604.7 448.6,605.4 292.8,605.4" fill="#e0e0e0"/>
<polygon points="295.0,605.2 296.8,605.1 298.6,604.8 300.2,604.5 301.9,603.6 303.5,603.2 305.1,602.6 306.8,602.0 308.4,600.9 309.2,599.7 310.1,598.6 310.9,596.6 311.7,595.2 312.5,594.2 313.4,592.8 314.2,591.8 314.7,590.1 315.2,588.3 315.7,587.2 316.2,585.2 316.6,583.6 317.1,582.2 317.6,580.4 318.1,578.8 318.6,577.5 319.1,575.6 319.4,574.7 319.7,572.7 319.9,570.8 320.2,568.6 320.5,567.3 320.8,565.6 321.1,564.2 321.3,562.5 321.6,561.3 321.9,559.7 322.2,557.4 322.4,555.7 322.7,554.3 323.0,553.1 323.2,550.5 323.4,549.1 323.6,547.9 323.8,545.2 324.0,543.8 324.2,543.1 324.4,541.2 324.7,539.0 324.9,536.7 325.1,536.3 325.3,534.3 325.5,532.9 325.7,531.5 325.9,529.7 326.1,527.2 326.3,525.1 326.5,523.6 326.7,522.4 326.9,520.7 327.1,518.5 327.4,516.8 327.6,515.9 327.8,514.2 328.0,512.1 328.2,511.6 328.4,509.3 328.6,506.5 328.8,505.5 329.1,504.6 329.5,502.1 329.8,501.2 330.1,498.2 330.5,497.1 330.8,496.6 332.4,493.4 333.7,491.3 334.0,492.0 334.3,494.2 334.6,495.9 334.9,496.9 335.1,499.2 335.4,500.6 335.7,503.1 336.0,503.8 336.2,505.2 336.3,506.4 336.5,508.1 336.7,510.9 336.9,511.4 337.0,513.1 337.2,514.9 337.4,517.2 337.6,519.5 337.7,520.8 337.9,522.8 338.1,523.2 338.3,524.8 338.4,527.8 338.6,528.7 338.8,531.0 338.9,532.0 339.1,533.3 339.3,535.0 339.5,536.4 339.6,539.3 339.8,540.4 340.0,541.6 340.1,543.4 340.3,544.9 340.5,546.0 340.6,548.9 340.8,550.0 341.0,552.2 341.2,553.0 341.3,554.9 341.5,555.9 341.7,557.3 341.9,560.2 342.2,561.7 342.4,562.6 342.6,565.1 342.8,566.6 343.1,567.6 343.3,569.6 343.5,571.7 343.7,572.8 344.0,574.9 344.2,575.8 344.4,577.6 344.8,579.7 345.1,580.8 345.5,582.6 345.9,584.9 346.2,586.2 346.6,588.3 346.9,589.4 347.3,591.1 348.3,592.8 349.3,594.3 350.2,596.5 351.2,597.5 352.2,599.2 353.7,599.6 355.1,600.5 356.6,601.1 358.1,601.7 359.5,602.2 361.0,602.9 362.6,603.5 364.2,603.5 365.9,603.7 367.5,604.0 369.1,604.2 370.7,604.5 372.5,604.5 374.3,604.8 376.1,604.8 377.9,604.8 379.6,605.1 381.4,604.9 383.2,605.0 385.0,605.2 385.0,605.4 295.0,605.4" fill="#5f5f5f" stroke="#222" stroke-width="0.9" stroke-linejoin="round"/>
<polyline points="322.0,605.0 323.2,604.8 324.4,604.0 325.7,603.8 326.9,603.7 328.1,603.3 329.3,602.4 330.6,602.1 331.8,602.1 333.0,601.4 334.2,601.2 335.3,599.7 336.5,599.7 337.7,598.5 338.8,597.4 340.0,596.9 341.0,595.9 342.0,595.8 343.0,594.6 344.0,594.7 345.0,593.6 346.0,592.6 347.1,591.9 348.2,591.8 349.4,590.7 350.5,591.0 351.7,589.0 352.8,588.5 354.0,587.6 354.6,586.0 355.2,585.5 355.8,583.8 356.4,583.0 357.0,581.7 357.6,580.1 358.2,579.0 358.8,577.3 359.3,576.3 359.8,576.3 360.3,574.2 360.8,573.6 361.3,571.4 361.8,571.1 362.3,569.6 362.8,568.7 363.3,567.1 363.8,565.5 364.2,564.8 364.7,563.5 365.2,562.1 365.6,562.2 366.1,560.2 366.6,559.2 367.1,559.2 367.5,557.7 368.0,556.8 368.5,555.6 369.0,552.9 369.5,552.1 370.1,550.4 370.6,550.7 371.1,549.5 371.6,547.7 372.2,546.7 372.7,546.2 373.3,545.2 373.9,543.1 374.4,543.4 375.0,541.1 375.9,540.8 376.7,538.7 377.5,537.6 378.4,538.5 379.2,539.2 380.0,540.3 380.8,539.8 381.6,540.9 382.1,542.4 382.7,543.7 383.2,545.1 383.7,546.5 384.3,546.9 384.8,548.8 385.3,550.6 385.8,550.7 386.3,553.3 386.8,553.9 387.4,555.3 387.9,555.5 388.4,557.0 388.9,558.6 389.4,559.1 389.9,559.5 390.3,562.4 390.7,563.5 391.1,563.7 391.5,564.4 391.9,567.2 392.3,568.0 392.7,568.1 393.1,569.7 393.5,570.6 393.9,573.1 394.3,573.3 394.7,575.7 395.1,576.6 395.6,576.6 396.2,578.7 396.7,579.3 397.2,581.0 397.7,582.3 398.2,582.5 398.8,583.3 399.3,585.8 399.8,586.1 400.3,587.9 400.9,588.7 401.4,589.8 402.2,591.0 403.1,591.7 403.9,592.5 404.8,593.0 405.6,594.8 406.5,595.5 407.3,596.6 408.2,598.1 409.0,598.2 410.1,599.5 411.2,599.4 412.4,600.7 413.5,601.5 414.6,601.6 415.8,602.5 416.9,603.5 418.0,603.8" fill="none" stroke="#2a2a2a" stroke-width="0.75"/>
<polyline points="292.8,604.7 293.9,604.4 295.1,605.0 296.2,605.1 297.4,604.8 298.6,604.8 299.7,604.9 300.9,604.9 302.0,604.5 303.2,605.1 304.3,604.7 305.4,604.7 306.6,604.7 307.8,604.8 308.9,605.1 310.1,604.7 311.2,604.8 312.4,605.1 313.5,604.9 314.6,604.8 315.8,605.1 316.9,605.1 318.1,605.1 319.2,605.1 320.4,605.0 321.6,605.1 322.7,605.1 323.9,605.0 325.0,605.1 326.2,605.0 327.5,604.8 328.8,604.3 330.0,604.0 331.2,603.9 332.5,603.4 333.8,603.5 335.0,603.5 336.2,602.6 337.4,602.7 338.6,602.5 339.8,601.7 341.0,602.0 342.2,601.9 343.4,601.0 344.4,600.2 345.4,599.9 346.4,598.7 347.3,597.7 348.3,597.6 349.3,596.6 350.1,595.0 350.9,593.9 351.6,593.1 352.4,592.3 353.2,592.1 353.7,590.8 354.3,589.9 354.8,588.6 355.4,587.6 355.9,585.2 356.5,584.9 357.0,584.6 357.6,583.5 358.1,581.1 358.6,580.3 359.1,579.5 359.5,577.9 360.0,577.0 360.5,575.0 361.0,574.5 361.5,573.5 361.9,571.3 362.4,570.4 362.9,571.0 363.3,569.5 363.8,568.8 364.2,567.1 364.7,566.4 365.1,565.5 365.6,564.5 366.0,561.5 366.5,561.8 366.9,559.9 367.4,559.8 367.8,557.8 368.2,557.3 368.7,557.1 369.1,555.2 369.5,553.2 369.9,552.8 370.4,551.5 370.8,551.6 371.3,548.8 371.9,547.7 372.4,547.4 372.9,544.9 373.5,544.9 374.0,544.7 374.7,542.6 375.5,540.9 376.2,540.5 377.0,539.7 377.7,537.7 378.4,538.7 379.1,539.8 379.8,541.4 380.5,542.8 381.1,543.5 381.8,544.4 382.4,545.1 383.1,547.3 383.7,549.1 384.2,549.6 384.7,550.6 385.2,551.9 385.7,551.9 386.2,554.2 386.8,554.7 387.3,556.0 387.8,557.3 388.3,558.0 388.8,558.8 389.2,559.7 389.5,560.8 389.9,562.6 390.3,563.5 390.7,565.0 391.0,564.9 391.4,566.8 391.8,569.0 392.1,568.8 392.5,570.6 392.9,571.6 393.3,572.3 393.6,574.9 394.0,574.6 394.5,576.6 395.1,576.6 395.6,577.5 396.1,580.2 396.7,580.5 397.2,580.9 397.7,582.6 398.3,583.8 398.8,585.5 399.3,585.5 399.9,586.8 400.4,589.1 401.2,589.7 401.9,589.8 402.7,591.0 403.4,592.0 404.2,593.5 405.0,594.3 405.7,595.6 406.5,596.5 407.2,597.1 408.0,598.3 409.0,598.9 410.0,599.5 411.0,599.8 412.0,600.7 413.0,601.2 414.0,602.0 415.0,601.8 416.0,603.1 417.0,603.0 418.2,603.8 419.4,603.8 420.5,603.8 421.7,604.4 422.9,604.2 424.1,604.2 425.3,604.6 426.5,604.8 427.6,604.8 428.8,604.8 430.0,605.0 431.2,605.0 432.4,605.1 433.6,604.9 434.8,605.0 436.0,605.1 437.2,605.0 438.4,605.0 439.6,605.1 440.8,605.1 442.0,605.1 443.2,605.1 444.4,605.0 445.6,605.1 446.8,605.1 448.0,605.1 448.6,604.7" fill="none" stroke="#000" stroke-width="2.1" stroke-linejoin="miter" stroke-miterlimit="3"/>
<path d="M291.50 463.50 H450.05" fill="none" stroke="#222" stroke-width="1.1"/>
<path d="M449.50 463.50 V605.40" fill="none" stroke="#222" stroke-width="1.1"/>
<path d="M291.50 463.50 V606.30" fill="none" stroke="#000" stroke-width="1.4"/>
<path d="M290.80 605.40 H450.00" fill="none" stroke="#000" stroke-width="2"/>
<line x1="287.70" x2="291.50" y1="463.50" y2="463.50" stroke="#000" stroke-width="1.1"/>
<line x1="288.90" x2="291.50" y1="469.18" y2="469.18" stroke="#444" stroke-width="0.9"/>
<line x1="288.90" x2="291.50" y1="474.85" y2="474.85" stroke="#444" stroke-width="0.9"/>
<line x1="288.90" x2="291.50" y1="480.53" y2="480.53" stroke="#444" stroke-width="0.9"/>
<line x1="288.90" x2="291.50" y1="486.20" y2="486.20" stroke="#444" stroke-width="0.9"/>
<line x1="287.70" x2="291.50" y1="491.88" y2="491.88" stroke="#000" stroke-width="1.1"/>
<line x1="288.90" x2="291.50" y1="497.56" y2="497.56" stroke="#444" stroke-width="0.9"/>
<line x1="288.90" x2="291.50" y1="503.23" y2="503.23" stroke="#444" stroke-width="0.9"/>
<line x1="288.90" x2="291.50" y1="508.91" y2="508.91" stroke="#444" stroke-width="0.9"/>
<line x1="288.90" x2="291.50" y1="514.58" y2="514.58" stroke="#444" stroke-width="0.9"/>
<line x1="287.70" x2="291.50" y1="520.26" y2="520.26" stroke="#000" stroke-width="1.1"/>
<line x1="288.90" x2="291.50" y1="525.94" y2="525.94" stroke="#444" stroke-width="0.9"/>
<line x1="288.90" x2="291.50" y1="531.61" y2="531.61" stroke="#444" stroke-width="0.9"/>
<line x1="288.90" x2="291.50" y1="537.29" y2="537.29" stroke="#444" stroke-width="0.9"/>
<line x1="288.90" x2="291.50" y1="542.96" y2="542.96" stroke="#444" stroke-width="0.9"/>
<line x1="287.70" x2="291.50" y1="548.64" y2="548.64" stroke="#000" stroke-width="1.1"/>
<line x1="288.90" x2="291.50" y1="554.32" y2="554.32" stroke="#444" stroke-width="0.9"/>
<line x1="288.90" x2="291.50" y1="559.99" y2="559.99" stroke="#444" stroke-width="0.9"/>
<line x1="288.90" x2="291.50" y1="565.67" y2="565.67" stroke="#444" stroke-width="0.9"/>
<line x1="288.90" x2="291.50" y1="571.34" y2="571.34" stroke="#444" stroke-width="0.9"/>
<line x1="287.70" x2="291.50" y1="577.02" y2="577.02" stroke="#000" stroke-width="1.1"/>
<line x1="288.90" x2="291.50" y1="582.70" y2="582.70" stroke="#444" stroke-width="0.9"/>
<line x1="288.90" x2="291.50" y1="588.37" y2="588.37" stroke="#444" stroke-width="0.9"/>
<line x1="288.90" x2="291.50" y1="594.05" y2="594.05" stroke="#444" stroke-width="0.9"/>
<line x1="288.90" x2="291.50" y1="599.72" y2="599.72" stroke="#444" stroke-width="0.9"/>
<line x1="287.70" x2="291.50" y1="605.40" y2="605.40" stroke="#000" stroke-width="1.1"/>
<line x1="293.00" x2="293.00" y1="605.40" y2="610.00" stroke="#000" stroke-width="1.1"/>
<line x1="304.79" x2="304.79" y1="605.40" y2="608.40" stroke="#222" stroke-width="0.8"/>
<line x1="311.68" x2="311.68" y1="605.40" y2="608.40" stroke="#222" stroke-width="0.8"/>
<line x1="316.57" x2="316.57" y1="605.40" y2="608.40" stroke="#222" stroke-width="0.8"/>
<line x1="320.36" x2="320.36" y1="605.40" y2="608.40" stroke="#222" stroke-width="0.8"/>
<line x1="323.46" x2="323.46" y1="605.40" y2="608.40" stroke="#222" stroke-width="0.8"/>
<line x1="326.09" x2="326.09" y1="605.40" y2="608.40" stroke="#222" stroke-width="0.8"/>
<line x1="328.36" x2="328.36" y1="605.40" y2="608.40" stroke="#222" stroke-width="0.8"/>
<line x1="330.36" x2="330.36" y1="605.40" y2="608.40" stroke="#222" stroke-width="0.8"/>
<line x1="332.15" x2="332.15" y1="605.40" y2="610.00" stroke="#000" stroke-width="1.1"/>
<line x1="343.94" x2="343.94" y1="605.40" y2="608.40" stroke="#222" stroke-width="0.8"/>
<line x1="350.83" x2="350.83" y1="605.40" y2="608.40" stroke="#222" stroke-width="0.8"/>
<line x1="355.72" x2="355.72" y1="605.40" y2="608.40" stroke="#222" stroke-width="0.8"/>
<line x1="359.51" x2="359.51" y1="605.40" y2="608.40" stroke="#222" stroke-width="0.8"/>
<line x1="362.61" x2="362.61" y1="605.40" y2="608.40" stroke="#222" stroke-width="0.8"/>
<line x1="365.24" x2="365.24" y1="605.40" y2="608.40" stroke="#222" stroke-width="0.8"/>
<line x1="367.51" x2="367.51" y1="605.40" y2="608.40" stroke="#222" stroke-width="0.8"/>
<line x1="369.51" x2="369.51" y1="605.40" y2="608.40" stroke="#222" stroke-width="0.8"/>
<line x1="371.30" x2="371.30" y1="605.40" y2="610.00" stroke="#000" stroke-width="1.1"/>
<line x1="383.09" x2="383.09" y1="605.40" y2="608.40" stroke="#222" stroke-width="0.8"/>
<line x1="389.98" x2="389.98" y1="605.40" y2="608.40" stroke="#222" stroke-width="0.8"/>
<line x1="394.87" x2="394.87" y1="605.40" y2="608.40" stroke="#222" stroke-width="0.8"/>
<line x1="398.66" x2="398.66" y1="605.40" y2="608.40" stroke="#222" stroke-width="0.8"/>
<line x1="401.76" x2="401.76" y1="605.40" y2="608.40" stroke="#222" stroke-width="0.8"/>
<line x1="404.39" x2="404.39" y1="605.40" y2="608.40" stroke="#222" stroke-width="0.8"/>
<line x1="406.66" x2="406.66" y1="605.40" y2="608.40" stroke="#222" stroke-width="0.8"/>
<line x1="408.66" x2="408.66" y1="605.40" y2="608.40" stroke="#222" stroke-width="0.8"/>
<line x1="410.45" x2="410.45" y1="605.40" y2="610.00" stroke="#000" stroke-width="1.1"/>
<line x1="422.24" x2="422.24" y1="605.40" y2="608.40" stroke="#222" stroke-width="0.8"/>
<line x1="429.13" x2="429.13" y1="605.40" y2="608.40" stroke="#222" stroke-width="0.8"/>
<line x1="434.02" x2="434.02" y1="605.40" y2="608.40" stroke="#222" stroke-width="0.8"/>
<line x1="437.81" x2="437.81" y1="605.40" y2="608.40" stroke="#222" stroke-width="0.8"/>
<line x1="440.91" x2="440.91" y1="605.40" y2="608.40" stroke="#222" stroke-width="0.8"/>
<line x1="443.54" x2="443.54" y1="605.40" y2="608.40" stroke="#222" stroke-width="0.8"/>
<line x1="445.81" x2="445.81" y1="605.40" y2="608.40" stroke="#222" stroke-width="0.8"/>
<line x1="447.81" x2="447.81" y1="605.40" y2="608.40" stroke="#222" stroke-width="0.8"/>
<line x1="449.60" x2="449.60" y1="605.40" y2="610.00" stroke="#000" stroke-width="1.1"/>
<text x="283.40" y="469.10" font-size="17.8" text-anchor="end" >300</text>
<text x="277.70" y="609.90" font-size="17.8" text-anchor="end" >0</text>
<text transform="translate(268.20,529.50) rotate(-90)" font-size="17.8" text-anchor="middle">Counts</text>
<text x="308.00" y="478.50" font-size="14.1" text-anchor="start" >IgM</text>
<text x="354.00" y="491.80" font-size="14.1" text-anchor="start" >Isotype</text>
<text x="355.40" y="515.20" font-size="14.1" text-anchor="start" >LPS-treated</text>
<text x="393.00" y="534.60" font-size="14.1" text-anchor="start" >LPS+Irr.</text>
<line x1="347.60" y1="494.00" x2="340.91" y2="499.95" stroke="#000" stroke-width="1.35"/>
<polygon points="336.80,503.60 339.25,498.08 342.57,501.81" fill="#000"/>
<line x1="354.20" y1="524.40" x2="361.04" y2="562.79" stroke="#000" stroke-width="1.35"/>
<polygon points="362.00,568.20 358.57,563.22 363.50,562.35" fill="#000"/>
<line x1="403.00" y1="538.80" x2="391.76" y2="552.01" stroke="#000" stroke-width="1.35"/>
<polygon points="388.20,556.20 389.86,550.39 393.67,553.63" fill="#000"/>
<polygon points="291.6,761.0 292.8,761.1 293.9,761.1 295.1,760.9 296.2,760.7 297.4,761.0 298.6,761.0 299.7,760.9 300.9,761.0 302.0,760.9 303.2,761.3 304.3,761.3 305.5,761.0 306.7,761.0 307.8,761.2 309.0,761.2 310.1,761.4 311.3,761.1 312.5,761.1 313.6,761.4 314.8,761.1 315.9,761.4 317.1,761.2 318.3,761.4 319.4,761.4 320.6,761.4 321.7,761.2 322.9,761.4 324.0,761.4 325.2,761.4 326.4,761.4 327.5,761.4 328.7,761.2 329.8,761.4 331.0,761.4 332.2,761.3 333.3,761.2 334.5,761.3 335.7,761.3 336.8,761.4 338.0,761.4 339.2,761.2 340.3,761.3 341.5,761.4 342.6,760.9 343.8,760.3 344.9,759.8 346.1,759.3 347.2,759.8 348.3,759.2 349.5,758.1 350.6,758.3 351.4,757.6 352.3,756.2 353.1,754.7 354.0,754.2 354.8,753.1 355.6,751.8 356.5,751.3 357.3,749.6 357.7,749.8 358.1,748.2 358.5,747.1 358.9,746.5 359.3,744.9 359.6,743.1 360.0,741.9 360.4,740.6 360.8,739.3 361.2,739.5 361.6,738.4 362.0,736.3 362.3,734.9 362.6,734.6 362.9,733.8 363.2,732.7 363.5,730.0 363.8,730.1 364.1,729.0 364.4,727.6 364.7,725.5 365.0,724.0 365.3,724.2 365.6,721.9 365.9,720.8 366.1,720.0 366.3,718.4 366.5,718.3 366.8,715.7 367.0,714.1 367.2,714.1 367.4,713.1 367.6,712.4 367.9,710.9 368.1,710.2 368.3,709.1 368.5,706.8 368.7,705.6 368.9,703.6 369.1,702.8 369.4,702.3 369.6,699.8 369.8,700.2 370.0,697.6 370.3,697.1 370.5,697.4 370.7,693.8 371.0,692.5 371.2,692.3 371.4,690.4 371.6,690.7 371.9,687.5 372.1,688.7 372.3,687.5 372.6,686.1 372.8,683.9 373.1,682.3 373.5,682.2 373.8,680.6 374.1,679.1 374.5,677.7 374.8,676.8 375.1,676.3 375.5,675.6 375.8,674.6 376.4,671.2 377.0,670.4 377.6,669.6 378.2,668.8 379.1,667.3 380.1,665.9 381.0,664.7 382.1,666.7 383.2,668.3 383.7,671.1 384.2,672.2 384.7,673.3 385.2,674.8 385.4,676.0 385.6,676.1 385.8,677.9 386.1,676.8 386.3,679.8 386.5,680.8 386.7,681.1 386.9,683.1 387.1,685.4 387.3,685.2 387.6,686.9 387.8,687.1 388.0,688.4 388.2,691.1 388.4,689.8 388.6,691.4 388.7,693.9 388.9,694.4 389.1,694.6 389.3,697.3 389.4,697.6 389.6,699.3 389.8,700.1 390.0,701.5 390.1,702.7 390.3,703.4 390.5,703.9 390.7,705.2 390.8,708.1 391.0,708.4 391.2,708.5 391.4,711.4 391.5,711.1 391.7,711.9 391.9,714.1 392.1,714.6 392.2,716.3 392.4,717.6 392.6,718.0 392.7,719.9 392.9,720.0 393.1,722.0 393.2,723.4 393.4,723.4 393.6,725.3 393.8,725.7 393.9,727.6 394.1,729.6 394.3,730.1 394.6,731.6 394.8,732.8 395.0,732.7 395.2,735.6 395.5,736.2 395.7,736.2 395.9,738.7 396.2,739.0 396.4,739.8 396.6,742.3 396.9,742.8 397.1,744.3 397.3,744.4 397.5,746.5 397.8,746.6 398.0,748.0 398.6,749.3 399.3,749.9 399.9,751.8 400.6,752.3 401.2,753.5 401.9,755.1 402.5,755.9 403.2,757.4 403.8,758.2 405.0,758.9 406.3,759.0 407.5,759.7 408.7,760.1 409.9,759.9 411.2,760.8 412.4,760.9 413.7,761.2 414.9,761.2 416.2,761.4 417.4,761.0 418.7,761.2 420.0,761.4 421.2,761.4 422.5,761.4 423.7,761.3 425.0,761.4 426.2,761.4 427.3,761.4 428.5,761.4 429.6,761.4 430.8,761.4 431.9,761.4 433.1,761.4 434.3,761.4 435.4,761.4 436.6,761.4 437.7,761.4 438.9,761.4 440.1,761.4 441.2,761.4 442.4,761.4 443.5,761.4 444.7,761.4 445.8,761.4 447.0,761.7 447.0,761.7 291.6,761.7" fill="#e0e0e0"/>
<polygon points="297.0,761.4 298.8,761.3 300.7,761.1 302.5,760.8 304.2,760.2 305.9,759.1 307.6,758.2 309.3,757.3 310.5,756.1 311.7,754.0 312.8,752.9 314.0,751.4 315.2,750.3 315.6,748.9 316.1,747.2 316.5,744.8 316.9,743.2 317.3,742.1 317.8,740.3 318.2,738.3 318.6,736.7 318.8,734.7 319.1,733.8 319.3,731.7 319.5,730.6 319.8,728.7 320.0,726.4 320.2,725.1 320.5,723.3 320.7,722.6 320.9,720.6 321.2,718.2 321.4,716.7 321.5,715.3 321.7,713.8 321.8,712.3 321.9,710.4 322.1,708.6 322.2,706.4 322.4,705.6 322.5,703.6 322.6,701.4 322.8,700.4 322.9,699.6 323.0,696.4 323.2,694.9 323.3,694.1 323.4,691.8 323.6,690.1 323.8,688.8 323.9,686.7 324.1,685.6 324.2,683.8 324.4,682.9 324.5,681.3 324.6,677.9 324.8,677.2 324.9,675.9 325.1,674.4 325.2,672.6 325.4,670.6 325.7,669.0 326.1,666.8 326.4,665.0 326.8,664.3 327.1,662.8 327.5,661.2 327.8,659.1 328.8,656.5 329.8,655.5 330.8,653.6 331.8,651.2 332.2,653.1 332.6,654.2 333.0,656.2 333.4,657.5 333.8,658.5 334.2,660.7 334.6,662.3 335.0,665.2 335.3,666.0 335.6,667.5 336.0,669.0 336.4,670.7 336.7,672.6 337.0,673.9 337.4,675.4 337.6,678.6 337.8,679.5 337.9,681.1 338.1,682.9 338.3,684.1 338.5,685.5 338.7,686.9 338.9,689.0 339.1,690.6 339.2,692.9 339.4,694.3 339.6,696.5 339.8,697.2 340.0,699.8 340.2,701.0 340.4,701.9 340.6,703.7 340.8,706.0 341.0,708.3 341.1,709.1 341.3,711.4 341.5,712.6 341.7,714.9 341.9,715.4 342.1,717.7 342.3,720.0 342.5,720.8 342.8,722.5 343.1,724.0 343.4,725.9 343.7,727.7 344.0,730.0 344.3,731.2 344.6,733.1 344.9,734.6 345.2,736.8 345.7,738.8 346.3,740.2 346.8,741.4 347.4,743.6 347.9,745.5 348.5,746.8 349.0,748.0 350.0,750.0 350.9,751.4 351.9,752.4 352.8,753.6 353.8,755.0 355.3,755.9 356.8,756.8 358.4,757.2 359.9,758.1 361.4,758.3 362.9,759.0 364.8,759.6 366.8,759.9 368.8,760.1 370.7,760.6 372.3,760.6 373.9,760.6 375.5,760.8 377.2,760.8 378.8,761.2 380.4,761.2 382.0,761.4 382.0,761.7 297.0,761.7" fill="#5f5f5f" stroke="#222" stroke-width="0.9" stroke-linejoin="round"/>
<polyline points="340.0,761.2 341.2,760.8 342.5,760.4 343.8,759.7 345.0,759.5 346.2,758.7 347.5,759.0 348.8,758.3 350.0,758.3 350.9,756.4 351.7,756.0 352.6,755.1 353.4,753.7 354.2,752.5 355.1,751.5 355.9,750.5 356.8,750.3 357.2,748.2 357.7,748.0 358.1,746.2 358.5,745.1 358.9,744.0 359.4,742.7 359.8,741.7 360.2,740.3 360.6,738.7 361.1,738.1 361.5,736.1 361.8,735.7 362.1,734.5 362.4,733.4 362.7,731.3 363.0,731.0 363.3,730.1 363.6,728.0 363.9,726.4 364.2,725.7 364.5,725.3 364.8,722.5 365.1,721.0 365.4,720.8 365.6,719.9 365.8,719.0 366.0,716.9 366.3,717.0 366.5,714.2 366.7,714.1 366.9,711.5 367.1,710.2 367.4,709.2 367.6,707.8 367.8,707.6 368.0,706.5 368.2,704.5 368.4,705.0 368.6,702.5 368.9,700.8 369.1,699.6 369.3,699.8 369.5,699.0 369.8,696.0 370.0,694.5 370.2,695.1 370.5,692.6 370.7,693.2 370.9,690.8 371.1,689.9 371.4,688.0 371.6,688.0 371.8,685.9 372.1,684.3 372.3,684.6 372.6,681.4 372.9,681.9 373.2,679.0 373.5,679.3 373.9,677.5 374.2,677.6 374.5,674.3 374.8,674.5 375.1,672.9 375.4,673.1 375.9,672.0 376.4,670.0 377.0,667.6 377.5,666.5 378.0,665.3 378.6,664.6 379.2,662.8 379.8,661.6 381.6,664.1 382.1,665.1 382.6,665.4 383.1,668.7 383.6,667.8 384.0,670.0 384.5,670.0 384.9,673.1 385.4,674.3 385.8,673.9 386.0,676.4 386.3,677.9 386.5,677.7 386.7,679.1 387.0,680.8 387.2,683.1 387.4,682.5 387.6,685.1 387.9,686.2 388.1,687.1 388.3,688.7 388.6,690.7 388.8,690.3 389.0,693.2 389.2,693.1 389.4,695.3 389.6,696.8 389.7,696.3 389.9,699.2 390.1,700.7 390.3,700.3 390.5,700.9 390.7,702.3 390.9,705.5 391.1,704.5 391.2,707.8 391.4,707.3 391.6,709.8 391.8,709.6 392.0,711.0 392.2,713.3 392.4,713.3 392.6,715.0 392.7,717.5 392.9,718.3 393.1,719.8 393.3,721.2 393.5,720.5 393.7,722.2 393.9,724.5 394.1,725.5 394.2,725.5 394.4,727.6 394.6,728.3 394.8,729.9 395.1,730.5 395.3,731.5 395.6,734.4 395.8,734.4 396.1,736.6 396.3,736.5 396.6,738.3 396.8,738.9 397.1,740.6 397.3,741.4 397.6,743.3 397.8,743.7 398.1,745.8 398.3,746.6 398.6,747.3 398.8,748.8 399.4,750.0 400.1,751.6 400.7,752.0 401.4,752.8 402.0,754.7 402.7,755.7 403.3,756.5 404.0,757.1 404.6,758.4" fill="none" stroke="#2a2a2a" stroke-width="0.75"/>
<polyline points="291.6,761.0 292.8,761.1 293.9,761.1 295.1,760.9 296.2,760.7 297.4,761.0 298.6,761.0 299.7,760.9 300.9,761.0 302.0,760.9 303.2,761.3 304.3,761.3 305.5,761.0 306.7,761.0 307.8,761.2 309.0,761.2 310.1,761.4 311.3,761.1 312.5,761.1 313.6,761.4 314.8,761.1 315.9,761.4 317.1,761.2 318.3,761.4 319.4,761.4 320.6,761.4 321.7,761.2 322.9,761.4 324.0,761.4 325.2,761.4 326.4,761.4 327.5,761.4 328.7,761.2 329.8,761.4 331.0,761.4 332.2,761.3 333.3,761.2 334.5,761.3 335.7,761.3 336.8,761.4 338.0,761.4 339.2,761.2 340.3,761.3 341.5,761.4 342.6,760.9 343.8,760.3 344.9,759.8 346.1,759.3 347.2,759.8 348.3,759.2 349.5,758.1 350.6,758.3 351.4,757.6 352.3,756.2 353.1,754.7 354.0,754.2 354.8,753.1 355.6,751.8 356.5,751.3 357.3,749.6 357.7,749.8 358.1,748.2 358.5,747.1 358.9,746.5 359.3,744.9 359.6,743.1 360.0,741.9 360.4,740.6 360.8,739.3 361.2,739.5 361.6,738.4 362.0,736.3 362.3,734.9 362.6,734.6 362.9,733.8 363.2,732.7 363.5,730.0 363.8,730.1 364.1,729.0 364.4,727.6 364.7,725.5 365.0,724.0 365.3,724.2 365.6,721.9 365.9,720.8 366.1,720.0 366.3,718.4 366.5,718.3 366.8,715.7 367.0,714.1 367.2,714.1 367.4,713.1 367.6,712.4 367.9,710.9 368.1,710.2 368.3,709.1 368.5,706.8 368.7,705.6 368.9,703.6 369.1,702.8 369.4,702.3 369.6,699.8 369.8,700.2 370.0,697.6 370.3,697.1 370.5,697.4 370.7,693.8 371.0,692.5 371.2,692.3 371.4,690.4 371.6,690.7 371.9,687.5 372.1,688.7 372.3,687.5 372.6,686.1 372.8,683.9 373.1,682.3 373.5,682.2 373.8,680.6 374.1,679.1 374.5,677.7 374.8,676.8 375.1,676.3 375.5,675.6 375.8,674.6 376.4,671.2 377.0,670.4 377.6,669.6 378.2,668.8 379.1,667.3 380.1,665.9 381.0,664.7 382.1,666.7 383.2,668.3 383.7,671.1 384.2,672.2 384.7,673.3 385.2,674.8 385.4,676.0 385.6,676.1 385.8,677.9 386.1,676.8 386.3,679.8 386.5,680.8 386.7,681.1 386.9,683.1 387.1,685.4 387.3,685.2 387.6,686.9 387.8,687.1 388.0,688.4 388.2,691.1 388.4,689.8 388.6,691.4 388.7,693.9 388.9,694.4 389.1,694.6 389.3,697.3 389.4,697.6 389.6,699.3 389.8,700.1 390.0,701.5 390.1,702.7 390.3,703.4 390.5,703.9 390.7,705.2 390.8,708.1 391.0,708.4 391.2,708.5 391.4,711.4 391.5,711.1 391.7,711.9 391.9,714.1 392.1,714.6 392.2,716.3 392.4,717.6 392.6,718.0 392.7,719.9 392.9,720.0 393.1,722.0 393.2,723.4 393.4,723.4 393.6,725.3 393.8,725.7 393.9,727.6 394.1,729.6 394.3,730.1 394.6,731.6 394.8,732.8 395.0,732.7 395.2,735.6 395.5,736.2 395.7,736.2 395.9,738.7 396.2,739.0 396.4,739.8 396.6,742.3 396.9,742.8 397.1,744.3 397.3,744.4 397.5,746.5 397.8,746.6 398.0,748.0 398.6,749.3 399.3,749.9 399.9,751.8 400.6,752.3 401.2,753.5 401.9,755.1 402.5,755.9 403.2,757.4 403.8,758.2 405.0,758.9 406.3,759.0 407.5,759.7 408.7,760.1 409.9,759.9 411.2,760.8 412.4,760.9 413.7,761.2 414.9,761.2 416.2,761.4 417.4,761.0 418.7,761.2 420.0,761.4 421.2,761.4 422.5,761.4 423.7,761.3 425.0,761.4 426.2,761.4 427.3,761.4 428.5,761.4 429.6,761.4 430.8,761.4 431.9,761.4 433.1,761.4 434.3,761.4 435.4,761.4 436.6,761.4 437.7,761.4 438.9,761.4 440.1,761.4 441.2,761.4 442.4,761.4 443.5,761.4 444.7,761.4 445.8,761.4 447.0,761.7" fill="none" stroke="#000" stroke-width="2.1" stroke-linejoin="miter" stroke-miterlimit="3"/>
<path d="M290.50 619.50 H449.05" fill="none" stroke="#777" stroke-width="1.1"/>
<path d="M448.50 619.50 V761.70" fill="none" stroke="#888" stroke-width="1.1"/>
<path d="M290.50 619.50 V762.60" fill="none" stroke="#000" stroke-width="1.4"/>
<path d="M289.80 761.70 H449.00" fill="none" stroke="#000" stroke-width="2"/>
<line x1="286.70" x2="290.50" y1="619.50" y2="619.50" stroke="#000" stroke-width="1.1"/>
<line x1="287.90" x2="290.50" y1="625.19" y2="625.19" stroke="#444" stroke-width="0.9"/>
<line x1="287.90" x2="290.50" y1="630.88" y2="630.88" stroke="#444" stroke-width="0.9"/>
<line x1="287.90" x2="290.50" y1="636.56" y2="636.56" stroke="#444" stroke-width="0.9"/>
<line x1="287.90" x2="290.50" y1="642.25" y2="642.25" stroke="#444" stroke-width="0.9"/>
<line x1="286.70" x2="290.50" y1="647.94" y2="647.94" stroke="#000" stroke-width="1.1"/>
<line x1="287.90" x2="290.50" y1="653.63" y2="653.63" stroke="#444" stroke-width="0.9"/>
<line x1="287.90" x2="290.50" y1="659.32" y2="659.32" stroke="#444" stroke-width="0.9"/>
<line x1="287.90" x2="290.50" y1="665.00" y2="665.00" stroke="#444" stroke-width="0.9"/>
<line x1="287.90" x2="290.50" y1="670.69" y2="670.69" stroke="#444" stroke-width="0.9"/>
<line x1="286.70" x2="290.50" y1="676.38" y2="676.38" stroke="#000" stroke-width="1.1"/>
<line x1="287.90" x2="290.50" y1="682.07" y2="682.07" stroke="#444" stroke-width="0.9"/>
<line x1="287.90" x2="290.50" y1="687.76" y2="687.76" stroke="#444" stroke-width="0.9"/>
<line x1="287.90" x2="290.50" y1="693.44" y2="693.44" stroke="#444" stroke-width="0.9"/>
<line x1="287.90" x2="290.50" y1="699.13" y2="699.13" stroke="#444" stroke-width="0.9"/>
<line x1="286.70" x2="290.50" y1="704.82" y2="704.82" stroke="#000" stroke-width="1.1"/>
<line x1="287.90" x2="290.50" y1="710.51" y2="710.51" stroke="#444" stroke-width="0.9"/>
<line x1="287.90" x2="290.50" y1="716.20" y2="716.20" stroke="#444" stroke-width="0.9"/>
<line x1="287.90" x2="290.50" y1="721.88" y2="721.88" stroke="#444" stroke-width="0.9"/>
<line x1="287.90" x2="290.50" y1="727.57" y2="727.57" stroke="#444" stroke-width="0.9"/>
<line x1="286.70" x2="290.50" y1="733.26" y2="733.26" stroke="#000" stroke-width="1.1"/>
<line x1="287.90" x2="290.50" y1="738.95" y2="738.95" stroke="#444" stroke-width="0.9"/>
<line x1="287.90" x2="290.50" y1="744.64" y2="744.64" stroke="#444" stroke-width="0.9"/>
<line x1="287.90" x2="290.50" y1="750.32" y2="750.32" stroke="#444" stroke-width="0.9"/>
<line x1="287.90" x2="290.50" y1="756.01" y2="756.01" stroke="#444" stroke-width="0.9"/>
<line x1="286.70" x2="290.50" y1="761.70" y2="761.70" stroke="#000" stroke-width="1.1"/>
<line x1="291.80" x2="291.80" y1="761.70" y2="766.30" stroke="#000" stroke-width="1.1"/>
<line x1="303.57" x2="303.57" y1="761.70" y2="764.70" stroke="#222" stroke-width="0.8"/>
<line x1="310.46" x2="310.46" y1="761.70" y2="764.70" stroke="#222" stroke-width="0.8"/>
<line x1="315.34" x2="315.34" y1="761.70" y2="764.70" stroke="#222" stroke-width="0.8"/>
<line x1="319.13" x2="319.13" y1="761.70" y2="764.70" stroke="#222" stroke-width="0.8"/>
<line x1="322.23" x2="322.23" y1="761.70" y2="764.70" stroke="#222" stroke-width="0.8"/>
<line x1="324.84" x2="324.84" y1="761.70" y2="764.70" stroke="#222" stroke-width="0.8"/>
<line x1="327.11" x2="327.11" y1="761.70" y2="764.70" stroke="#222" stroke-width="0.8"/>
<line x1="329.11" x2="329.11" y1="761.70" y2="764.70" stroke="#222" stroke-width="0.8"/>
<line x1="330.90" x2="330.90" y1="761.70" y2="766.30" stroke="#000" stroke-width="1.1"/>
<line x1="342.67" x2="342.67" y1="761.70" y2="764.70" stroke="#222" stroke-width="0.8"/>
<line x1="349.56" x2="349.56" y1="761.70" y2="764.70" stroke="#222" stroke-width="0.8"/>
<line x1="354.44" x2="354.44" y1="761.70" y2="764.70" stroke="#222" stroke-width="0.8"/>
<line x1="358.23" x2="358.23" y1="761.70" y2="764.70" stroke="#222" stroke-width="0.8"/>
<line x1="361.33" x2="361.33" y1="761.70" y2="764.70" stroke="#222" stroke-width="0.8"/>
<line x1="363.94" x2="363.94" y1="761.70" y2="764.70" stroke="#222" stroke-width="0.8"/>
<line x1="366.21" x2="366.21" y1="761.70" y2="764.70" stroke="#222" stroke-width="0.8"/>
<line x1="368.21" x2="368.21" y1="761.70" y2="764.70" stroke="#222" stroke-width="0.8"/>
<line x1="370.00" x2="370.00" y1="761.70" y2="766.30" stroke="#000" stroke-width="1.1"/>
<line x1="381.77" x2="381.77" y1="761.70" y2="764.70" stroke="#222" stroke-width="0.8"/>
<line x1="388.66" x2="388.66" y1="761.70" y2="764.70" stroke="#222" stroke-width="0.8"/>
<line x1="393.54" x2="393.54" y1="761.70" y2="764.70" stroke="#222" stroke-width="0.8"/>
<line x1="397.33" x2="397.33" y1="761.70" y2="764.70" stroke="#222" stroke-width="0.8"/>
<line x1="400.43" x2="400.43" y1="761.70" y2="764.70" stroke="#222" stroke-width="0.8"/>
<line x1="403.04" x2="403.04" y1="761.70" y2="764.70" stroke="#222" stroke-width="0.8"/>
<line x1="405.31" x2="405.31" y1="761.70" y2="764.70" stroke="#222" stroke-width="0.8"/>
<line x1="407.31" x2="407.31" y1="761.70" y2="764.70" stroke="#222" stroke-width="0.8"/>
<line x1="409.10" x2="409.10" y1="761.70" y2="766.30" stroke="#000" stroke-width="1.1"/>
<line x1="420.87" x2="420.87" y1="761.70" y2="764.70" stroke="#222" stroke-width="0.8"/>
<line x1="427.76" x2="427.76" y1="761.70" y2="764.70" stroke="#222" stroke-width="0.8"/>
<line x1="432.64" x2="432.64" y1="761.70" y2="764.70" stroke="#222" stroke-width="0.8"/>
<line x1="436.43" x2="436.43" y1="761.70" y2="764.70" stroke="#222" stroke-width="0.8"/>
<line x1="439.53" x2="439.53" y1="761.70" y2="764.70" stroke="#222" stroke-width="0.8"/>
<line x1="442.14" x2="442.14" y1="761.70" y2="764.70" stroke="#222" stroke-width="0.8"/>
<line x1="444.41" x2="444.41" y1="761.70" y2="764.70" stroke="#222" stroke-width="0.8"/>
<line x1="446.41" x2="446.41" y1="761.70" y2="764.70" stroke="#222" stroke-width="0.8"/>
<line x1="448.20" x2="448.20" y1="761.70" y2="766.30" stroke="#000" stroke-width="1.1"/>
<text x="282.60" y="625.20" font-size="17.8" text-anchor="end" >300</text>
<text x="276.70" y="765.90" font-size="17.8" text-anchor="end" >0</text>
<text transform="translate(266.90,685.50) rotate(-90)" font-size="17.8" text-anchor="middle">Counts</text>
<text x="293.60" y="634.60" font-size="14.1" text-anchor="start" >CD11a</text>
<text x="337.20" y="649.00" font-size="14.1" text-anchor="start" >Isotype</text>
<text x="365.80" y="633.20" font-size="14.1" text-anchor="start" >LPS-treated</text>
<text x="391.20" y="664.80" font-size="14.1" text-anchor="start" >LPS+Irr.</text>
<line x1="351.20" y1="656.80" x2="341.66" y2="666.48" stroke="#000" stroke-width="1.35"/>
<polygon points="337.80,670.40 339.88,664.73 343.44,668.24" fill="#000"/>
<line x1="388.00" y1="642.20" x2="382.46" y2="655.90" stroke="#000" stroke-width="1.35"/>
<polygon points="380.40,661.00 380.14,654.96 384.78,656.84" fill="#000"/>
<line x1="406.00" y1="668.40" x2="391.95" y2="676.62" stroke="#000" stroke-width="1.35"/>
<polygon points="387.20,679.40 390.68,674.46 393.21,678.78" fill="#000"/>
<text x="297.40" y="788.20" font-size="17.6" text-anchor="end" >10</text>
<text x="297.70" y="780.30" font-size="14.0" text-anchor="start" >0</text>
<text x="337.70" y="788.20" font-size="17.6" text-anchor="end" >10</text>
<text x="337.50" y="780.30" font-size="14.0" text-anchor="start" >1</text>
<text x="377.10" y="788.20" font-size="17.6" text-anchor="end" >10</text>
<text x="377.60" y="780.30" font-size="14.0" text-anchor="start" >2</text>
<text x="415.80" y="788.20" font-size="17.6" text-anchor="end" >10</text>
<text x="416.10" y="780.30" font-size="14.0" text-anchor="start" >3</text>
<text x="454.00" y="788.20" font-size="17.6" text-anchor="end" >10</text>
<text x="454.70" y="780.30" font-size="14.0" text-anchor="start" >4</text>
<text x="142.00" y="820.10" font-size="17.4" text-anchor="start" >Fluorescense intensity</text>
<rect x="24.5" y="840.6" width="25.8" height="9.7" fill="#636363" stroke="#222" stroke-width="1"/>
<text x="56.40" y="850.80" font-size="17.0" text-anchor="start" >: Isotype,</text>
<rect x="133.8" y="840.6" width="25.6" height="9.7" fill="#c4c4c4" stroke="#222" stroke-width="1"/>
<text x="164.60" y="850.80" font-size="17.4" text-anchor="start" >: LPS + Irradiation,</text>
<line x1="318.2" x2="343.6" y1="846.2" y2="846.2" stroke="#000" stroke-width="1.4"/>
<text x="347.60" y="850.80" font-size="17.4" text-anchor="start" >: LPS-treated</text>
</svg>
</body></html>
